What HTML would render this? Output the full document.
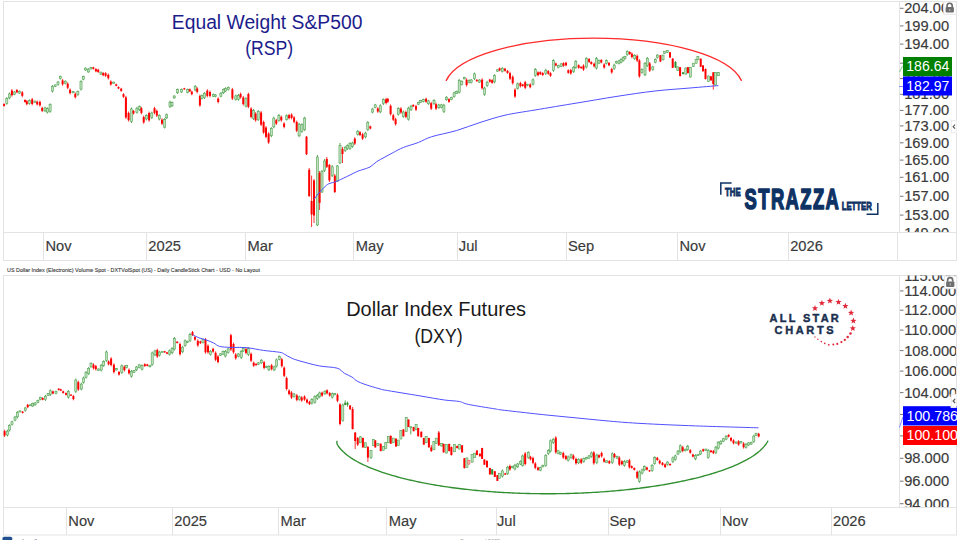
<!DOCTYPE html>
<html><head><meta charset="utf-8"><style>
html,body{margin:0;padding:0;background:#fff;width:960px;height:540px;overflow:hidden}
svg{display:block}
text{font-family:"Liberation Sans",sans-serif}
</style></head><body>
<svg width="960" height="540" viewBox="0 0 960 540">
<defs>
<clipPath id="ctop"><rect x="899" y="1.5" width="57" height="230.5"/></clipPath>
<clipPath id="cbot"><rect x="899" y="275.5" width="57" height="231.5"/></clipPath>
<clipPath id="cbox"><rect x="899" y="0" width="58" height="540"/></clipPath>
</defs>
<rect x="3.5" y="1.5" width="953" height="259" fill="#fff" stroke="#e3e3e3" stroke-width="1"/>
<line x1="3.5" y1="232.5" x2="956.5" y2="232.5" stroke="#e3e3e3"/>
<line x1="899.5" y1="1.5" x2="899.5" y2="232.5" stroke="#e3e3e3"/>
<line x1="43.5" y1="232.5" x2="43.5" y2="260.5" stroke="#e3e3e3" stroke-width="1"/>
<line x1="146.5" y1="232.5" x2="146.5" y2="260.5" stroke="#e3e3e3" stroke-width="1"/>
<line x1="245.5" y1="232.5" x2="245.5" y2="260.5" stroke="#e3e3e3" stroke-width="1"/>
<line x1="353.5" y1="232.5" x2="353.5" y2="260.5" stroke="#e3e3e3" stroke-width="1"/>
<line x1="457.5" y1="232.5" x2="457.5" y2="260.5" stroke="#e3e3e3" stroke-width="1"/>
<line x1="566.5" y1="232.5" x2="566.5" y2="260.5" stroke="#e3e3e3" stroke-width="1"/>
<line x1="677.5" y1="232.5" x2="677.5" y2="260.5" stroke="#e3e3e3" stroke-width="1"/>
<line x1="788.5" y1="232.5" x2="788.5" y2="260.5" stroke="#e3e3e3" stroke-width="1"/>
<line x1="897.5" y1="232.5" x2="897.5" y2="260.5" stroke="#e3e3e3" stroke-width="1"/>
<text x="45.5" y="251.3" font-size="14" fill="#3a3a3a" stroke="#3a3a3a" stroke-width="0.15" textLength="26.1" lengthAdjust="spacingAndGlyphs">Nov</text>
<text x="148.3" y="251.3" font-size="14" fill="#3a3a3a" stroke="#3a3a3a" stroke-width="0.15" textLength="32.7" lengthAdjust="spacingAndGlyphs">2025</text>
<text x="247.5" y="251.3" font-size="14" fill="#3a3a3a" stroke="#3a3a3a" stroke-width="0.15" textLength="25.3" lengthAdjust="spacingAndGlyphs">Mar</text>
<text x="355.7" y="251.3" font-size="14" fill="#3a3a3a" stroke="#3a3a3a" stroke-width="0.15" textLength="27.8" lengthAdjust="spacingAndGlyphs">May</text>
<text x="458.8" y="251.3" font-size="14" fill="#3a3a3a" stroke="#3a3a3a" stroke-width="0.15" textLength="18.8" lengthAdjust="spacingAndGlyphs">Jul</text>
<text x="568" y="251.3" font-size="14" fill="#3a3a3a" stroke="#3a3a3a" stroke-width="0.15" textLength="26.2" lengthAdjust="spacingAndGlyphs">Sep</text>
<text x="679.5" y="251.3" font-size="14" fill="#3a3a3a" stroke="#3a3a3a" stroke-width="0.15" textLength="26.1" lengthAdjust="spacingAndGlyphs">Nov</text>
<text x="790.2" y="251.3" font-size="14" fill="#3a3a3a" stroke="#3a3a3a" stroke-width="0.15" textLength="32.7" lengthAdjust="spacingAndGlyphs">2026</text>
<line x1="900" y1="8.3" x2="903.5" y2="8.3" stroke="#777" stroke-width="1"/>
<text x="904.2" y="13.3" font-size="14" fill="#3a3a3a" stroke="#3a3a3a" stroke-width="0.15" textLength="44.9" lengthAdjust="spacingAndGlyphs" clip-path="url(#ctop)">204.00</text>
<line x1="900" y1="25.9" x2="903.5" y2="25.9" stroke="#777" stroke-width="1"/>
<text x="904.2" y="30.9" font-size="14" fill="#3a3a3a" stroke="#3a3a3a" stroke-width="0.15" textLength="44.9" lengthAdjust="spacingAndGlyphs" clip-path="url(#ctop)">199.00</text>
<line x1="900" y1="44.1" x2="903.5" y2="44.1" stroke="#777" stroke-width="1"/>
<text x="904.2" y="49.1" font-size="14" fill="#3a3a3a" stroke="#3a3a3a" stroke-width="0.15" textLength="44.9" lengthAdjust="spacingAndGlyphs" clip-path="url(#ctop)">194.00</text>
<line x1="900" y1="63.2" x2="903.5" y2="63.2" stroke="#777" stroke-width="1"/>
<text x="904.2" y="68.2" font-size="14" fill="#3a3a3a" stroke="#3a3a3a" stroke-width="0.15" textLength="44.9" lengthAdjust="spacingAndGlyphs" clip-path="url(#ctop)">189.00</text>
<line x1="900" y1="78.6" x2="903.5" y2="78.6" stroke="#777" stroke-width="1"/>
<text x="904.2" y="83.6" font-size="14" fill="#3a3a3a" stroke="#3a3a3a" stroke-width="0.15" textLength="44.9" lengthAdjust="spacingAndGlyphs" clip-path="url(#ctop)">185.00</text>
<line x1="900" y1="94.3" x2="903.5" y2="94.3" stroke="#777" stroke-width="1"/>
<text x="904.2" y="99.3" font-size="14" fill="#3a3a3a" stroke="#3a3a3a" stroke-width="0.15" textLength="44.9" lengthAdjust="spacingAndGlyphs" clip-path="url(#ctop)">181.00</text>
<line x1="900" y1="110.4" x2="903.5" y2="110.4" stroke="#777" stroke-width="1"/>
<text x="904.2" y="115.4" font-size="14" fill="#3a3a3a" stroke="#3a3a3a" stroke-width="0.15" textLength="44.9" lengthAdjust="spacingAndGlyphs" clip-path="url(#ctop)">177.00</text>
<line x1="900" y1="125.9" x2="903.5" y2="125.9" stroke="#777" stroke-width="1"/>
<text x="904.2" y="130.9" font-size="14" fill="#3a3a3a" stroke="#3a3a3a" stroke-width="0.15" textLength="44.9" lengthAdjust="spacingAndGlyphs" clip-path="url(#ctop)">173.00</text>
<line x1="900" y1="142.8" x2="903.5" y2="142.8" stroke="#777" stroke-width="1"/>
<text x="904.2" y="147.8" font-size="14" fill="#3a3a3a" stroke="#3a3a3a" stroke-width="0.15" textLength="44.9" lengthAdjust="spacingAndGlyphs" clip-path="url(#ctop)">169.00</text>
<line x1="900" y1="160.1" x2="903.5" y2="160.1" stroke="#777" stroke-width="1"/>
<text x="904.2" y="165.1" font-size="14" fill="#3a3a3a" stroke="#3a3a3a" stroke-width="0.15" textLength="44.9" lengthAdjust="spacingAndGlyphs" clip-path="url(#ctop)">165.00</text>
<line x1="900" y1="177.3" x2="903.5" y2="177.3" stroke="#777" stroke-width="1"/>
<text x="904.2" y="182.3" font-size="14" fill="#3a3a3a" stroke="#3a3a3a" stroke-width="0.15" textLength="44.9" lengthAdjust="spacingAndGlyphs" clip-path="url(#ctop)">161.00</text>
<line x1="900" y1="196.3" x2="903.5" y2="196.3" stroke="#777" stroke-width="1"/>
<text x="904.2" y="201.3" font-size="14" fill="#3a3a3a" stroke="#3a3a3a" stroke-width="0.15" textLength="44.9" lengthAdjust="spacingAndGlyphs" clip-path="url(#ctop)">157.00</text>
<line x1="900" y1="215.1" x2="903.5" y2="215.1" stroke="#777" stroke-width="1"/>
<text x="904.2" y="220.1" font-size="14" fill="#3a3a3a" stroke="#3a3a3a" stroke-width="0.15" textLength="44.9" lengthAdjust="spacingAndGlyphs" clip-path="url(#ctop)">153.00</text>
<text x="904.2" y="237.6" font-size="14" fill="#3a3a3a" stroke="#3a3a3a" stroke-width="0.15" textLength="44.9" lengthAdjust="spacingAndGlyphs" clip-path="url(#ctop)">149.00</text>
<line x1="4.1" y1="103.3" x2="4.1" y2="106.7" stroke="#ff0000" stroke-width="0.8"/>
<rect x="3.10" y="104.0" width="2.0" height="1.9" fill="#ff0000"/>
<line x1="6.8" y1="97.2" x2="6.8" y2="104.7" stroke="#2e8f2e" stroke-width="0.8"/>
<rect x="5.75" y="98.6" width="2.1" height="4.7" fill="#bfe0bf" stroke="#4c9f4c" stroke-width="0.55"/>
<line x1="9.5" y1="92.5" x2="9.5" y2="99.3" stroke="#2e8f2e" stroke-width="0.8"/>
<rect x="8.45" y="93.9" width="2.1" height="4.0" fill="#bfe0bf" stroke="#4c9f4c" stroke-width="0.55"/>
<line x1="11.9" y1="89.1" x2="11.9" y2="96.6" stroke="#ff0000" stroke-width="0.8"/>
<rect x="10.90" y="90.5" width="2.0" height="4.7" fill="#ff0000"/>
<line x1="14.6" y1="91.1" x2="14.6" y2="95.2" stroke="#2e8f2e" stroke-width="0.8"/>
<rect x="13.55" y="92.0" width="2.1" height="2.3" fill="#bfe0bf" stroke="#4c9f4c" stroke-width="0.55"/>
<line x1="16.9" y1="89.1" x2="16.9" y2="93.2" stroke="#ff0000" stroke-width="0.8"/>
<rect x="15.90" y="90.0" width="2.0" height="2.3" fill="#ff0000"/>
<line x1="19.6" y1="90.5" x2="19.6" y2="93.9" stroke="#2e8f2e" stroke-width="0.8"/>
<rect x="18.55" y="91.2" width="2.1" height="1.9" fill="#bfe0bf" stroke="#4c9f4c" stroke-width="0.55"/>
<line x1="22.3" y1="91.1" x2="22.3" y2="97.2" stroke="#ff0000" stroke-width="0.8"/>
<rect x="21.30" y="92.4" width="2.0" height="3.4" fill="#ff0000"/>
<line x1="25.0" y1="99.3" x2="25.0" y2="102.7" stroke="#ff0000" stroke-width="0.8"/>
<rect x="24.00" y="100.0" width="2.0" height="1.9" fill="#ff0000"/>
<line x1="26.8" y1="100.0" x2="26.8" y2="105.4" stroke="#ff0000" stroke-width="0.8"/>
<rect x="25.80" y="101.2" width="2.0" height="3.0" fill="#ff0000"/>
<line x1="29.5" y1="99.3" x2="29.5" y2="104.7" stroke="#2e8f2e" stroke-width="0.8"/>
<rect x="28.45" y="100.5" width="2.1" height="3.0" fill="#bfe0bf" stroke="#4c9f4c" stroke-width="0.55"/>
<line x1="32.2" y1="97.9" x2="32.2" y2="105.4" stroke="#ff0000" stroke-width="0.8"/>
<rect x="31.20" y="99.3" width="2.0" height="4.7" fill="#ff0000"/>
<line x1="34.9" y1="100.6" x2="34.9" y2="102.7" stroke="#2e8f2e" stroke-width="0.8"/>
<rect x="33.85" y="101.1" width="2.1" height="1.2" fill="#bfe0bf" stroke="#4c9f4c" stroke-width="0.55"/>
<line x1="37.2" y1="100.6" x2="37.2" y2="105.4" stroke="#ff0000" stroke-width="0.8"/>
<rect x="36.20" y="101.7" width="2.0" height="2.7" fill="#ff0000"/>
<line x1="39.9" y1="100.6" x2="39.9" y2="106.7" stroke="#ff0000" stroke-width="0.8"/>
<rect x="38.90" y="101.9" width="2.0" height="3.4" fill="#ff0000"/>
<line x1="42.2" y1="106.7" x2="42.2" y2="112.1" stroke="#ff0000" stroke-width="0.8"/>
<rect x="41.20" y="107.9" width="2.0" height="3.0" fill="#ff0000"/>
<line x1="45.0" y1="106.7" x2="45.0" y2="112.1" stroke="#2e8f2e" stroke-width="0.8"/>
<rect x="43.95" y="107.9" width="2.1" height="3.0" fill="#bfe0bf" stroke="#4c9f4c" stroke-width="0.55"/>
<line x1="47.4" y1="107.4" x2="47.4" y2="113.5" stroke="#2e8f2e" stroke-width="0.8"/>
<rect x="46.35" y="108.7" width="2.1" height="3.4" fill="#bfe0bf" stroke="#4c9f4c" stroke-width="0.55"/>
<line x1="50.1" y1="103.3" x2="50.1" y2="112.8" stroke="#2e8f2e" stroke-width="0.8"/>
<rect x="49.05" y="104.7" width="2.1" height="6.7" fill="#bfe0bf" stroke="#4c9f4c" stroke-width="0.55"/>
<line x1="52.5" y1="85.0" x2="52.5" y2="92.5" stroke="#2e8f2e" stroke-width="0.8"/>
<rect x="51.45" y="86.4" width="2.1" height="4.7" fill="#bfe0bf" stroke="#4c9f4c" stroke-width="0.55"/>
<line x1="55.2" y1="84.4" x2="55.2" y2="87.1" stroke="#2e8f2e" stroke-width="0.8"/>
<rect x="54.15" y="85.0" width="2.1" height="1.5" fill="#bfe0bf" stroke="#4c9f4c" stroke-width="0.55"/>
<line x1="58.0" y1="81.0" x2="58.0" y2="85.7" stroke="#2e8f2e" stroke-width="0.8"/>
<rect x="56.95" y="82.0" width="2.1" height="2.6" fill="#bfe0bf" stroke="#4c9f4c" stroke-width="0.55"/>
<line x1="60.3" y1="75.6" x2="60.3" y2="79.6" stroke="#2e8f2e" stroke-width="0.8"/>
<rect x="59.25" y="76.5" width="2.1" height="2.2" fill="#bfe0bf" stroke="#4c9f4c" stroke-width="0.55"/>
<line x1="62.6" y1="79.0" x2="62.6" y2="85.7" stroke="#ff0000" stroke-width="0.8"/>
<rect x="61.60" y="80.4" width="2.0" height="3.9" fill="#ff0000"/>
<line x1="65.3" y1="80.3" x2="65.3" y2="84.4" stroke="#2e8f2e" stroke-width="0.8"/>
<rect x="64.25" y="81.2" width="2.1" height="2.3" fill="#bfe0bf" stroke="#4c9f4c" stroke-width="0.55"/>
<line x1="67.7" y1="82.3" x2="67.7" y2="89.1" stroke="#ff0000" stroke-width="0.8"/>
<rect x="66.70" y="83.7" width="2.0" height="4.0" fill="#ff0000"/>
<line x1="70.1" y1="88.4" x2="70.1" y2="94.5" stroke="#ff0000" stroke-width="0.8"/>
<rect x="69.10" y="89.7" width="2.0" height="3.4" fill="#ff0000"/>
<line x1="73.1" y1="91.1" x2="73.1" y2="93.2" stroke="#2e8f2e" stroke-width="0.8"/>
<rect x="72.05" y="91.6" width="2.1" height="1.2" fill="#bfe0bf" stroke="#4c9f4c" stroke-width="0.55"/>
<line x1="75.3" y1="92.5" x2="75.3" y2="98.6" stroke="#ff0000" stroke-width="0.8"/>
<rect x="74.30" y="93.8" width="2.0" height="3.4" fill="#ff0000"/>
<line x1="77.9" y1="90.5" x2="77.9" y2="95.9" stroke="#2e8f2e" stroke-width="0.8"/>
<rect x="76.85" y="91.7" width="2.1" height="3.0" fill="#bfe0bf" stroke="#4c9f4c" stroke-width="0.55"/>
<line x1="81.0" y1="80.3" x2="81.0" y2="90.5" stroke="#2e8f2e" stroke-width="0.8"/>
<rect x="79.95" y="81.7" width="2.1" height="7.4" fill="#bfe0bf" stroke="#4c9f4c" stroke-width="0.55"/>
<line x1="83.3" y1="75.6" x2="83.3" y2="80.3" stroke="#2e8f2e" stroke-width="0.8"/>
<rect x="82.25" y="76.6" width="2.1" height="2.6" fill="#bfe0bf" stroke="#4c9f4c" stroke-width="0.55"/>
<line x1="85.6" y1="67.4" x2="85.6" y2="70.8" stroke="#2e8f2e" stroke-width="0.8"/>
<rect x="84.55" y="68.1" width="2.1" height="1.9" fill="#bfe0bf" stroke="#4c9f4c" stroke-width="0.55"/>
<line x1="88.3" y1="68.1" x2="88.3" y2="72.9" stroke="#2e8f2e" stroke-width="0.8"/>
<rect x="87.25" y="69.2" width="2.1" height="2.7" fill="#bfe0bf" stroke="#4c9f4c" stroke-width="0.55"/>
<line x1="91.0" y1="66.8" x2="91.0" y2="69.5" stroke="#2e8f2e" stroke-width="0.8"/>
<rect x="89.95" y="67.4" width="2.1" height="1.5" fill="#bfe0bf" stroke="#4c9f4c" stroke-width="0.55"/>
<line x1="93.4" y1="66.8" x2="93.4" y2="69.5" stroke="#ff0000" stroke-width="0.8"/>
<rect x="92.40" y="67.4" width="2.0" height="1.5" fill="#ff0000"/>
<line x1="95.9" y1="68.1" x2="95.9" y2="72.2" stroke="#ff0000" stroke-width="0.8"/>
<rect x="94.90" y="69.0" width="2.0" height="2.3" fill="#ff0000"/>
<line x1="98.2" y1="68.8" x2="98.2" y2="72.9" stroke="#ff0000" stroke-width="0.8"/>
<rect x="97.20" y="69.7" width="2.0" height="2.3" fill="#ff0000"/>
<line x1="100.9" y1="71.5" x2="100.9" y2="74.9" stroke="#2e8f2e" stroke-width="0.8"/>
<rect x="99.85" y="72.2" width="2.1" height="1.9" fill="#bfe0bf" stroke="#4c9f4c" stroke-width="0.55"/>
<line x1="103.2" y1="72.2" x2="103.2" y2="76.2" stroke="#ff0000" stroke-width="0.8"/>
<rect x="102.20" y="73.1" width="2.0" height="2.2" fill="#ff0000"/>
<line x1="105.6" y1="72.2" x2="105.6" y2="76.9" stroke="#ff0000" stroke-width="0.8"/>
<rect x="104.60" y="73.2" width="2.0" height="2.6" fill="#ff0000"/>
<line x1="108.3" y1="73.5" x2="108.3" y2="79.6" stroke="#ff0000" stroke-width="0.8"/>
<rect x="107.30" y="74.8" width="2.0" height="3.4" fill="#ff0000"/>
<line x1="110.8" y1="80.3" x2="110.8" y2="85.7" stroke="#ff0000" stroke-width="0.8"/>
<rect x="109.80" y="81.5" width="2.0" height="3.0" fill="#ff0000"/>
<line x1="113.7" y1="81.7" x2="113.7" y2="83.7" stroke="#2e8f2e" stroke-width="0.8"/>
<rect x="112.65" y="82.1" width="2.1" height="1.1" fill="#bfe0bf" stroke="#4c9f4c" stroke-width="0.55"/>
<line x1="116.2" y1="83.7" x2="116.2" y2="86.4" stroke="#ff0000" stroke-width="0.8"/>
<rect x="115.20" y="84.3" width="2.0" height="1.5" fill="#ff0000"/>
<line x1="118.5" y1="86.4" x2="118.5" y2="89.1" stroke="#ff0000" stroke-width="0.8"/>
<rect x="117.50" y="87.0" width="2.0" height="1.5" fill="#ff0000"/>
<line x1="121.2" y1="87.8" x2="121.2" y2="91.8" stroke="#ff0000" stroke-width="0.8"/>
<rect x="120.20" y="88.7" width="2.0" height="2.2" fill="#ff0000"/>
<line x1="123.5" y1="93.2" x2="123.5" y2="97.9" stroke="#ff0000" stroke-width="0.8"/>
<rect x="122.50" y="94.2" width="2.0" height="2.6" fill="#ff0000"/>
<line x1="125.9" y1="95.9" x2="125.9" y2="118.9" stroke="#ff0000" stroke-width="0.8"/>
<rect x="124.90" y="97.3" width="2.0" height="20.2" fill="#ff0000"/>
<line x1="128.6" y1="111.5" x2="128.6" y2="121.6" stroke="#ff0000" stroke-width="0.8"/>
<rect x="127.60" y="112.9" width="2.0" height="7.3" fill="#ff0000"/>
<line x1="131.5" y1="107.5" x2="131.5" y2="123.0" stroke="#2e8f2e" stroke-width="0.8"/>
<rect x="130.45" y="108.9" width="2.1" height="12.7" fill="#bfe0bf" stroke="#4c9f4c" stroke-width="0.55"/>
<line x1="133.5" y1="110.0" x2="133.5" y2="114.5" stroke="#ff0000" stroke-width="0.8"/>
<rect x="132.50" y="111.0" width="2.0" height="2.5" fill="#ff0000"/>
<line x1="136.9" y1="106.8" x2="136.9" y2="113.6" stroke="#2e8f2e" stroke-width="0.8"/>
<rect x="135.85" y="108.2" width="2.1" height="4.0" fill="#bfe0bf" stroke="#4c9f4c" stroke-width="0.55"/>
<line x1="139.6" y1="105.5" x2="139.6" y2="111.0" stroke="#2e8f2e" stroke-width="0.8"/>
<rect x="138.55" y="106.7" width="2.1" height="3.1" fill="#bfe0bf" stroke="#4c9f4c" stroke-width="0.55"/>
<line x1="141.4" y1="106.8" x2="141.4" y2="114.3" stroke="#ff0000" stroke-width="0.8"/>
<rect x="140.40" y="108.2" width="2.0" height="4.7" fill="#ff0000"/>
<line x1="143.7" y1="115.6" x2="143.7" y2="123.8" stroke="#ff0000" stroke-width="0.8"/>
<rect x="142.70" y="117.0" width="2.0" height="5.4" fill="#ff0000"/>
<line x1="146.4" y1="114.3" x2="146.4" y2="120.4" stroke="#2e8f2e" stroke-width="0.8"/>
<rect x="145.35" y="115.6" width="2.1" height="3.4" fill="#bfe0bf" stroke="#4c9f4c" stroke-width="0.55"/>
<line x1="149.1" y1="111.6" x2="149.1" y2="121.7" stroke="#ff0000" stroke-width="0.8"/>
<rect x="148.10" y="113.0" width="2.0" height="7.3" fill="#ff0000"/>
<line x1="151.8" y1="111.6" x2="151.8" y2="119.0" stroke="#2e8f2e" stroke-width="0.8"/>
<rect x="150.75" y="113.0" width="2.1" height="4.6" fill="#bfe0bf" stroke="#4c9f4c" stroke-width="0.55"/>
<line x1="154.5" y1="106.8" x2="154.5" y2="114.3" stroke="#ff0000" stroke-width="0.8"/>
<rect x="153.50" y="108.2" width="2.0" height="4.7" fill="#ff0000"/>
<line x1="156.8" y1="109.5" x2="156.8" y2="117.0" stroke="#ff0000" stroke-width="0.8"/>
<rect x="155.80" y="110.9" width="2.0" height="4.7" fill="#ff0000"/>
<line x1="159.3" y1="114.3" x2="159.3" y2="120.4" stroke="#2e8f2e" stroke-width="0.8"/>
<rect x="158.25" y="115.6" width="2.1" height="3.4" fill="#bfe0bf" stroke="#4c9f4c" stroke-width="0.55"/>
<line x1="162.0" y1="118.3" x2="162.0" y2="125.1" stroke="#ff0000" stroke-width="0.8"/>
<rect x="161.00" y="119.7" width="2.0" height="4.0" fill="#ff0000"/>
<line x1="164.7" y1="118.0" x2="164.7" y2="128.5" stroke="#2e8f2e" stroke-width="0.8"/>
<rect x="163.65" y="119.4" width="2.1" height="7.7" fill="#bfe0bf" stroke="#4c9f4c" stroke-width="0.55"/>
<line x1="166.7" y1="113.6" x2="166.7" y2="119.0" stroke="#2e8f2e" stroke-width="0.8"/>
<rect x="165.65" y="114.8" width="2.1" height="3.0" fill="#bfe0bf" stroke="#4c9f4c" stroke-width="0.55"/>
<line x1="170.0" y1="100.7" x2="170.0" y2="108.0" stroke="#2e8f2e" stroke-width="0.8"/>
<rect x="168.95" y="102.1" width="2.1" height="4.5" fill="#bfe0bf" stroke="#4c9f4c" stroke-width="0.55"/>
<line x1="172.0" y1="101.5" x2="172.0" y2="107.0" stroke="#2e8f2e" stroke-width="0.8"/>
<rect x="170.95" y="102.7" width="2.1" height="3.1" fill="#bfe0bf" stroke="#4c9f4c" stroke-width="0.55"/>
<line x1="174.2" y1="95.3" x2="174.2" y2="98.7" stroke="#2e8f2e" stroke-width="0.8"/>
<rect x="173.15" y="96.0" width="2.1" height="1.9" fill="#bfe0bf" stroke="#4c9f4c" stroke-width="0.55"/>
<line x1="177.6" y1="88.5" x2="177.6" y2="94.0" stroke="#2e8f2e" stroke-width="0.8"/>
<rect x="176.55" y="89.7" width="2.1" height="3.1" fill="#bfe0bf" stroke="#4c9f4c" stroke-width="0.55"/>
<line x1="181.6" y1="88.5" x2="181.6" y2="93.0" stroke="#2e8f2e" stroke-width="0.8"/>
<rect x="180.55" y="89.5" width="2.1" height="2.5" fill="#bfe0bf" stroke="#4c9f4c" stroke-width="0.55"/>
<line x1="184.3" y1="87.8" x2="184.3" y2="89.8" stroke="#ff0000" stroke-width="0.8"/>
<rect x="183.30" y="88.2" width="2.0" height="1.1" fill="#ff0000"/>
<line x1="187.7" y1="88.5" x2="187.7" y2="93.3" stroke="#2e8f2e" stroke-width="0.8"/>
<rect x="186.65" y="89.6" width="2.1" height="2.7" fill="#bfe0bf" stroke="#4c9f4c" stroke-width="0.55"/>
<line x1="189.8" y1="88.5" x2="189.8" y2="92.0" stroke="#ff0000" stroke-width="0.8"/>
<rect x="188.80" y="89.3" width="2.0" height="2.0" fill="#ff0000"/>
<line x1="191.8" y1="90.6" x2="191.8" y2="95.3" stroke="#ff0000" stroke-width="0.8"/>
<rect x="190.80" y="91.6" width="2.0" height="2.6" fill="#ff0000"/>
<line x1="195.2" y1="85.0" x2="195.2" y2="91.3" stroke="#2e8f2e" stroke-width="0.8"/>
<rect x="194.15" y="86.4" width="2.1" height="3.5" fill="#bfe0bf" stroke="#4c9f4c" stroke-width="0.55"/>
<line x1="197.2" y1="87.2" x2="197.2" y2="93.3" stroke="#ff0000" stroke-width="0.8"/>
<rect x="196.20" y="88.5" width="2.0" height="3.4" fill="#ff0000"/>
<line x1="199.9" y1="94.6" x2="199.9" y2="106.8" stroke="#ff0000" stroke-width="0.8"/>
<rect x="198.90" y="96.0" width="2.0" height="9.4" fill="#ff0000"/>
<line x1="201.9" y1="94.6" x2="201.9" y2="99.4" stroke="#2e8f2e" stroke-width="0.8"/>
<rect x="200.85" y="95.7" width="2.1" height="2.7" fill="#bfe0bf" stroke="#4c9f4c" stroke-width="0.55"/>
<line x1="204.6" y1="92.0" x2="204.6" y2="99.0" stroke="#2e8f2e" stroke-width="0.8"/>
<rect x="203.55" y="93.4" width="2.1" height="4.2" fill="#bfe0bf" stroke="#4c9f4c" stroke-width="0.55"/>
<line x1="207.3" y1="89.2" x2="207.3" y2="97.3" stroke="#ff0000" stroke-width="0.8"/>
<rect x="206.30" y="90.6" width="2.0" height="5.3" fill="#ff0000"/>
<line x1="210.0" y1="90.6" x2="210.0" y2="97.3" stroke="#ff0000" stroke-width="0.8"/>
<rect x="209.00" y="92.0" width="2.0" height="3.9" fill="#ff0000"/>
<line x1="213.4" y1="93.5" x2="213.4" y2="97.0" stroke="#2e8f2e" stroke-width="0.8"/>
<rect x="212.35" y="94.3" width="2.1" height="2.0" fill="#bfe0bf" stroke="#4c9f4c" stroke-width="0.55"/>
<line x1="215.5" y1="94.2" x2="215.5" y2="97.3" stroke="#2e8f2e" stroke-width="0.8"/>
<rect x="214.45" y="94.9" width="2.1" height="1.7" fill="#bfe0bf" stroke="#4c9f4c" stroke-width="0.55"/>
<line x1="218.2" y1="97.3" x2="218.2" y2="103.4" stroke="#ff0000" stroke-width="0.8"/>
<rect x="217.20" y="98.6" width="2.0" height="3.4" fill="#ff0000"/>
<line x1="220.9" y1="92.0" x2="220.9" y2="97.3" stroke="#2e8f2e" stroke-width="0.8"/>
<rect x="219.85" y="93.2" width="2.1" height="3.0" fill="#bfe0bf" stroke="#4c9f4c" stroke-width="0.55"/>
<line x1="223.6" y1="88.5" x2="223.6" y2="94.0" stroke="#2e8f2e" stroke-width="0.8"/>
<rect x="222.55" y="89.7" width="2.1" height="3.1" fill="#bfe0bf" stroke="#4c9f4c" stroke-width="0.55"/>
<line x1="225.6" y1="87.2" x2="225.6" y2="92.0" stroke="#2e8f2e" stroke-width="0.8"/>
<rect x="224.55" y="88.3" width="2.1" height="2.7" fill="#bfe0bf" stroke="#4c9f4c" stroke-width="0.55"/>
<line x1="228.3" y1="86.5" x2="228.3" y2="90.6" stroke="#2e8f2e" stroke-width="0.8"/>
<rect x="227.25" y="87.4" width="2.1" height="2.3" fill="#bfe0bf" stroke="#4c9f4c" stroke-width="0.55"/>
<line x1="232.4" y1="87.9" x2="232.4" y2="100.0" stroke="#ff0000" stroke-width="0.8"/>
<rect x="231.40" y="89.3" width="2.0" height="9.3" fill="#ff0000"/>
<line x1="235.8" y1="94.6" x2="235.8" y2="100.7" stroke="#2e8f2e" stroke-width="0.8"/>
<rect x="234.75" y="95.9" width="2.1" height="3.4" fill="#bfe0bf" stroke="#4c9f4c" stroke-width="0.55"/>
<line x1="238.5" y1="94.0" x2="238.5" y2="100.7" stroke="#2e8f2e" stroke-width="0.8"/>
<rect x="237.45" y="95.4" width="2.1" height="3.9" fill="#bfe0bf" stroke="#4c9f4c" stroke-width="0.55"/>
<line x1="240.6" y1="92.6" x2="240.6" y2="98.7" stroke="#ff0000" stroke-width="0.8"/>
<rect x="239.60" y="93.9" width="2.0" height="3.4" fill="#ff0000"/>
<line x1="243.3" y1="96.0" x2="243.3" y2="105.5" stroke="#ff0000" stroke-width="0.8"/>
<rect x="242.30" y="97.4" width="2.0" height="6.7" fill="#ff0000"/>
<line x1="246.0" y1="97.3" x2="246.0" y2="107.5" stroke="#2e8f2e" stroke-width="0.8"/>
<rect x="244.95" y="98.7" width="2.1" height="7.4" fill="#bfe0bf" stroke="#4c9f4c" stroke-width="0.55"/>
<line x1="248.4" y1="92.6" x2="248.4" y2="108.2" stroke="#ff0000" stroke-width="0.8"/>
<rect x="247.40" y="94.0" width="2.0" height="12.8" fill="#ff0000"/>
<line x1="251.1" y1="107.2" x2="251.1" y2="118.3" stroke="#ff0000" stroke-width="0.8"/>
<rect x="250.10" y="108.6" width="2.0" height="8.3" fill="#ff0000"/>
<line x1="253.6" y1="108.9" x2="253.6" y2="120.0" stroke="#2e8f2e" stroke-width="0.8"/>
<rect x="252.55" y="110.3" width="2.1" height="8.3" fill="#bfe0bf" stroke="#4c9f4c" stroke-width="0.55"/>
<line x1="255.6" y1="112.2" x2="255.6" y2="121.7" stroke="#ff0000" stroke-width="0.8"/>
<rect x="254.60" y="113.6" width="2.0" height="6.7" fill="#ff0000"/>
<line x1="258.2" y1="110.0" x2="258.2" y2="121.1" stroke="#2e8f2e" stroke-width="0.8"/>
<rect x="257.15" y="111.4" width="2.1" height="8.3" fill="#bfe0bf" stroke="#4c9f4c" stroke-width="0.55"/>
<line x1="261.1" y1="111.1" x2="261.1" y2="126.1" stroke="#ff0000" stroke-width="0.8"/>
<rect x="260.10" y="112.5" width="2.0" height="12.2" fill="#ff0000"/>
<line x1="263.6" y1="120.6" x2="263.6" y2="133.9" stroke="#ff0000" stroke-width="0.8"/>
<rect x="262.60" y="122.0" width="2.0" height="10.5" fill="#ff0000"/>
<line x1="266.0" y1="126.1" x2="266.0" y2="138.3" stroke="#ff0000" stroke-width="0.8"/>
<rect x="265.00" y="127.5" width="2.0" height="9.4" fill="#ff0000"/>
<line x1="268.6" y1="132.2" x2="268.6" y2="143.9" stroke="#ff0000" stroke-width="0.8"/>
<rect x="267.60" y="133.6" width="2.0" height="8.9" fill="#ff0000"/>
<line x1="271.3" y1="127.2" x2="271.3" y2="137.2" stroke="#2e8f2e" stroke-width="0.8"/>
<rect x="270.25" y="128.6" width="2.1" height="7.2" fill="#bfe0bf" stroke="#4c9f4c" stroke-width="0.55"/>
<line x1="273.8" y1="116.7" x2="273.8" y2="128.3" stroke="#2e8f2e" stroke-width="0.8"/>
<rect x="272.75" y="118.1" width="2.1" height="8.8" fill="#bfe0bf" stroke="#4c9f4c" stroke-width="0.55"/>
<line x1="276.3" y1="118.9" x2="276.3" y2="125.0" stroke="#ff0000" stroke-width="0.8"/>
<rect x="275.30" y="120.2" width="2.0" height="3.4" fill="#ff0000"/>
<line x1="278.9" y1="113.9" x2="278.9" y2="121.7" stroke="#2e8f2e" stroke-width="0.8"/>
<rect x="277.85" y="115.3" width="2.1" height="5.0" fill="#bfe0bf" stroke="#4c9f4c" stroke-width="0.55"/>
<line x1="281.3" y1="115.6" x2="281.3" y2="121.7" stroke="#ff0000" stroke-width="0.8"/>
<rect x="280.30" y="116.9" width="2.0" height="3.4" fill="#ff0000"/>
<line x1="284.1" y1="122.2" x2="284.1" y2="128.3" stroke="#ff0000" stroke-width="0.8"/>
<rect x="283.10" y="123.5" width="2.0" height="3.4" fill="#ff0000"/>
<line x1="286.7" y1="114.4" x2="286.7" y2="120.6" stroke="#2e8f2e" stroke-width="0.8"/>
<rect x="285.65" y="115.8" width="2.1" height="3.5" fill="#bfe0bf" stroke="#4c9f4c" stroke-width="0.55"/>
<line x1="289.1" y1="113.9" x2="289.1" y2="119.4" stroke="#ff0000" stroke-width="0.8"/>
<rect x="288.10" y="115.1" width="2.0" height="3.1" fill="#ff0000"/>
<line x1="291.6" y1="113.3" x2="291.6" y2="119.4" stroke="#ff0000" stroke-width="0.8"/>
<rect x="290.60" y="114.6" width="2.0" height="3.4" fill="#ff0000"/>
<line x1="294.1" y1="116.1" x2="294.1" y2="123.3" stroke="#ff0000" stroke-width="0.8"/>
<rect x="293.10" y="117.5" width="2.0" height="4.4" fill="#ff0000"/>
<line x1="296.7" y1="120.6" x2="296.7" y2="132.2" stroke="#ff0000" stroke-width="0.8"/>
<rect x="295.70" y="122.0" width="2.0" height="8.8" fill="#ff0000"/>
<line x1="299.1" y1="122.8" x2="299.1" y2="137.2" stroke="#2e8f2e" stroke-width="0.8"/>
<rect x="298.05" y="124.2" width="2.1" height="11.6" fill="#bfe0bf" stroke="#4c9f4c" stroke-width="0.55"/>
<line x1="301.9" y1="123.3" x2="301.9" y2="132.8" stroke="#2e8f2e" stroke-width="0.8"/>
<rect x="300.85" y="124.7" width="2.1" height="6.7" fill="#bfe0bf" stroke="#4c9f4c" stroke-width="0.55"/>
<line x1="304.7" y1="116.7" x2="304.7" y2="131.1" stroke="#2e8f2e" stroke-width="0.8"/>
<rect x="303.65" y="118.1" width="2.1" height="11.6" fill="#bfe0bf" stroke="#4c9f4c" stroke-width="0.55"/>
<line x1="306.5" y1="136.0" x2="306.5" y2="155.0" stroke="#ff0000" stroke-width="0.8"/>
<rect x="305.50" y="136.7" width="2.0" height="17.5" fill="#ff0000"/>
<line x1="309.2" y1="168.0" x2="309.2" y2="197.0" stroke="#ff0000" stroke-width="0.8"/>
<rect x="308.20" y="169.7" width="2.0" height="26.3" fill="#ff0000"/>
<line x1="311.6" y1="175.6" x2="311.6" y2="227.0" stroke="#ff0000" stroke-width="0.8"/>
<rect x="310.60" y="201.0" width="2.0" height="13.5" fill="#ff0000"/>
<line x1="314.0" y1="179.0" x2="314.0" y2="223.0" stroke="#ff0000" stroke-width="0.8"/>
<rect x="313.00" y="180.4" width="2.0" height="35.1" fill="#ff0000"/>
<line x1="317.4" y1="155.0" x2="317.4" y2="226.0" stroke="#2e8f2e" stroke-width="0.8"/>
<rect x="316.35" y="157.0" width="2.1" height="68.0" fill="#bfe0bf" stroke="#4c9f4c" stroke-width="0.55"/>
<line x1="319.6" y1="171.0" x2="319.6" y2="210.0" stroke="#ff0000" stroke-width="0.8"/>
<rect x="318.60" y="172.7" width="2.0" height="30.1" fill="#ff0000"/>
<line x1="322.0" y1="170.0" x2="322.0" y2="193.0" stroke="#2e8f2e" stroke-width="0.8"/>
<rect x="320.95" y="171.7" width="2.1" height="20.3" fill="#bfe0bf" stroke="#4c9f4c" stroke-width="0.55"/>
<line x1="324.6" y1="159.0" x2="324.6" y2="172.0" stroke="#2e8f2e" stroke-width="0.8"/>
<rect x="323.55" y="161.0" width="2.1" height="9.7" fill="#bfe0bf" stroke="#4c9f4c" stroke-width="0.55"/>
<line x1="326.8" y1="157.0" x2="326.8" y2="168.0" stroke="#ff0000" stroke-width="0.8"/>
<rect x="325.80" y="159.0" width="2.0" height="7.8" fill="#ff0000"/>
<line x1="329.4" y1="164.0" x2="329.4" y2="182.0" stroke="#ff0000" stroke-width="0.8"/>
<rect x="328.40" y="164.9" width="2.0" height="15.5" fill="#ff0000"/>
<line x1="332.2" y1="165.0" x2="332.2" y2="177.0" stroke="#2e8f2e" stroke-width="0.8"/>
<rect x="331.15" y="166.8" width="2.1" height="8.8" fill="#bfe0bf" stroke="#4c9f4c" stroke-width="0.55"/>
<line x1="334.8" y1="174.0" x2="334.8" y2="193.0" stroke="#ff0000" stroke-width="0.8"/>
<rect x="333.80" y="175.6" width="2.0" height="16.4" fill="#ff0000"/>
<line x1="337.4" y1="165.0" x2="337.4" y2="182.0" stroke="#2e8f2e" stroke-width="0.8"/>
<rect x="336.35" y="165.9" width="2.1" height="15.5" fill="#bfe0bf" stroke="#4c9f4c" stroke-width="0.55"/>
<line x1="340.0" y1="143.0" x2="340.0" y2="164.0" stroke="#2e8f2e" stroke-width="0.8"/>
<rect x="338.95" y="145.4" width="2.1" height="17.6" fill="#bfe0bf" stroke="#4c9f4c" stroke-width="0.55"/>
<line x1="342.5" y1="147.0" x2="342.5" y2="163.0" stroke="#ff0000" stroke-width="0.8"/>
<rect x="341.50" y="149.0" width="2.0" height="5.0" fill="#ff0000"/>
<line x1="345.2" y1="146.0" x2="345.2" y2="152.0" stroke="#2e8f2e" stroke-width="0.8"/>
<rect x="344.15" y="147.3" width="2.1" height="3.4" fill="#bfe0bf" stroke="#4c9f4c" stroke-width="0.55"/>
<line x1="347.6" y1="144.4" x2="347.6" y2="150.0" stroke="#2e8f2e" stroke-width="0.8"/>
<rect x="346.55" y="145.6" width="2.1" height="3.1" fill="#bfe0bf" stroke="#4c9f4c" stroke-width="0.55"/>
<line x1="350.0" y1="142.2" x2="350.0" y2="150.0" stroke="#2e8f2e" stroke-width="0.8"/>
<rect x="348.95" y="143.6" width="2.1" height="5.0" fill="#bfe0bf" stroke="#4c9f4c" stroke-width="0.55"/>
<line x1="352.6" y1="141.7" x2="352.6" y2="147.8" stroke="#2e8f2e" stroke-width="0.8"/>
<rect x="351.55" y="143.0" width="2.1" height="3.4" fill="#bfe0bf" stroke="#4c9f4c" stroke-width="0.55"/>
<line x1="354.8" y1="137.2" x2="354.8" y2="145.0" stroke="#ff0000" stroke-width="0.8"/>
<rect x="353.80" y="138.6" width="2.0" height="5.0" fill="#ff0000"/>
<line x1="357.8" y1="130.0" x2="357.8" y2="135.6" stroke="#2e8f2e" stroke-width="0.8"/>
<rect x="356.75" y="131.2" width="2.1" height="3.1" fill="#bfe0bf" stroke="#4c9f4c" stroke-width="0.55"/>
<line x1="360.0" y1="131.1" x2="360.0" y2="136.1" stroke="#ff0000" stroke-width="0.8"/>
<rect x="359.00" y="132.2" width="2.0" height="2.8" fill="#ff0000"/>
<line x1="362.6" y1="132.8" x2="362.6" y2="140.0" stroke="#ff0000" stroke-width="0.8"/>
<rect x="361.60" y="134.2" width="2.0" height="4.4" fill="#ff0000"/>
<line x1="365.6" y1="131.7" x2="365.6" y2="138.3" stroke="#2e8f2e" stroke-width="0.8"/>
<rect x="364.55" y="133.1" width="2.1" height="3.8" fill="#bfe0bf" stroke="#4c9f4c" stroke-width="0.55"/>
<line x1="367.8" y1="121.1" x2="367.8" y2="131.1" stroke="#2e8f2e" stroke-width="0.8"/>
<rect x="366.75" y="122.5" width="2.1" height="7.2" fill="#bfe0bf" stroke="#4c9f4c" stroke-width="0.55"/>
<line x1="370.3" y1="125.6" x2="370.3" y2="129.4" stroke="#ff0000" stroke-width="0.8"/>
<rect x="369.30" y="126.4" width="2.0" height="2.1" fill="#ff0000"/>
<line x1="372.6" y1="107.8" x2="372.6" y2="113.3" stroke="#2e8f2e" stroke-width="0.8"/>
<rect x="371.55" y="109.0" width="2.1" height="3.1" fill="#bfe0bf" stroke="#4c9f4c" stroke-width="0.55"/>
<line x1="375.2" y1="103.9" x2="375.2" y2="108.3" stroke="#2e8f2e" stroke-width="0.8"/>
<rect x="374.15" y="104.9" width="2.1" height="2.5" fill="#bfe0bf" stroke="#4c9f4c" stroke-width="0.55"/>
<line x1="377.8" y1="107.2" x2="377.8" y2="112.8" stroke="#ff0000" stroke-width="0.8"/>
<rect x="376.80" y="108.4" width="2.0" height="3.1" fill="#ff0000"/>
<line x1="380.3" y1="104.4" x2="380.3" y2="113.3" stroke="#2e8f2e" stroke-width="0.8"/>
<rect x="379.25" y="105.8" width="2.1" height="6.1" fill="#bfe0bf" stroke="#4c9f4c" stroke-width="0.55"/>
<line x1="383.3" y1="98.3" x2="383.3" y2="105.0" stroke="#2e8f2e" stroke-width="0.8"/>
<rect x="382.25" y="99.7" width="2.1" height="3.9" fill="#bfe0bf" stroke="#4c9f4c" stroke-width="0.55"/>
<line x1="386.1" y1="97.8" x2="386.1" y2="104.4" stroke="#ff0000" stroke-width="0.8"/>
<rect x="385.10" y="99.2" width="2.0" height="3.8" fill="#ff0000"/>
<line x1="387.8" y1="97.8" x2="387.8" y2="102.8" stroke="#ff0000" stroke-width="0.8"/>
<rect x="386.80" y="98.9" width="2.0" height="2.8" fill="#ff0000"/>
<line x1="390.6" y1="104.4" x2="390.6" y2="115.6" stroke="#ff0000" stroke-width="0.8"/>
<rect x="389.60" y="105.8" width="2.0" height="8.4" fill="#ff0000"/>
<line x1="393.3" y1="113.9" x2="393.3" y2="121.1" stroke="#ff0000" stroke-width="0.8"/>
<rect x="392.30" y="115.3" width="2.0" height="4.4" fill="#ff0000"/>
<line x1="395.6" y1="117.8" x2="395.6" y2="125.6" stroke="#ff0000" stroke-width="0.8"/>
<rect x="394.60" y="119.2" width="2.0" height="5.0" fill="#ff0000"/>
<line x1="398.3" y1="107.2" x2="398.3" y2="115.6" stroke="#2e8f2e" stroke-width="0.8"/>
<rect x="397.25" y="108.6" width="2.1" height="5.6" fill="#bfe0bf" stroke="#4c9f4c" stroke-width="0.55"/>
<line x1="400.9" y1="107.2" x2="400.9" y2="113.9" stroke="#ff0000" stroke-width="0.8"/>
<rect x="399.90" y="108.6" width="2.0" height="3.9" fill="#ff0000"/>
<line x1="403.3" y1="110.6" x2="403.3" y2="117.8" stroke="#2e8f2e" stroke-width="0.8"/>
<rect x="402.25" y="112.0" width="2.1" height="4.4" fill="#bfe0bf" stroke="#4c9f4c" stroke-width="0.55"/>
<line x1="405.9" y1="110.6" x2="405.9" y2="118.3" stroke="#ff0000" stroke-width="0.8"/>
<rect x="404.90" y="112.0" width="2.0" height="4.9" fill="#ff0000"/>
<line x1="408.6" y1="106.7" x2="408.6" y2="120.6" stroke="#2e8f2e" stroke-width="0.8"/>
<rect x="407.55" y="108.1" width="2.1" height="11.1" fill="#bfe0bf" stroke="#4c9f4c" stroke-width="0.55"/>
<line x1="411.1" y1="104.9" x2="411.1" y2="111.0" stroke="#2e8f2e" stroke-width="0.8"/>
<rect x="410.05" y="106.2" width="2.1" height="3.4" fill="#bfe0bf" stroke="#4c9f4c" stroke-width="0.55"/>
<line x1="413.3" y1="104.3" x2="413.3" y2="106.9" stroke="#ff0000" stroke-width="0.8"/>
<rect x="412.30" y="104.9" width="2.0" height="1.5" fill="#ff0000"/>
<line x1="416.0" y1="104.9" x2="416.0" y2="111.0" stroke="#ff0000" stroke-width="0.8"/>
<rect x="415.00" y="106.2" width="2.0" height="3.4" fill="#ff0000"/>
<line x1="418.4" y1="101.8" x2="418.4" y2="104.9" stroke="#2e8f2e" stroke-width="0.8"/>
<rect x="417.35" y="102.5" width="2.1" height="1.7" fill="#bfe0bf" stroke="#4c9f4c" stroke-width="0.55"/>
<line x1="420.7" y1="99.8" x2="420.7" y2="102.8" stroke="#2e8f2e" stroke-width="0.8"/>
<rect x="419.65" y="100.5" width="2.1" height="1.7" fill="#bfe0bf" stroke="#4c9f4c" stroke-width="0.55"/>
<line x1="423.5" y1="98.7" x2="423.5" y2="102.3" stroke="#2e8f2e" stroke-width="0.8"/>
<rect x="422.45" y="99.5" width="2.1" height="2.0" fill="#bfe0bf" stroke="#4c9f4c" stroke-width="0.55"/>
<line x1="426.1" y1="97.7" x2="426.1" y2="102.8" stroke="#ff0000" stroke-width="0.8"/>
<rect x="425.10" y="98.8" width="2.0" height="2.9" fill="#ff0000"/>
<line x1="428.6" y1="99.8" x2="428.6" y2="104.9" stroke="#2e8f2e" stroke-width="0.8"/>
<rect x="427.55" y="100.9" width="2.1" height="2.9" fill="#bfe0bf" stroke="#4c9f4c" stroke-width="0.55"/>
<line x1="431.2" y1="101.8" x2="431.2" y2="110.0" stroke="#ff0000" stroke-width="0.8"/>
<rect x="430.20" y="103.2" width="2.0" height="5.4" fill="#ff0000"/>
<line x1="434.0" y1="99.2" x2="434.0" y2="104.9" stroke="#2e8f2e" stroke-width="0.8"/>
<rect x="432.95" y="100.5" width="2.1" height="3.2" fill="#bfe0bf" stroke="#4c9f4c" stroke-width="0.55"/>
<line x1="436.0" y1="102.8" x2="436.0" y2="110.0" stroke="#ff0000" stroke-width="0.8"/>
<rect x="435.00" y="104.2" width="2.0" height="4.4" fill="#ff0000"/>
<line x1="438.8" y1="103.8" x2="438.8" y2="108.9" stroke="#2e8f2e" stroke-width="0.8"/>
<rect x="437.75" y="104.9" width="2.1" height="2.9" fill="#bfe0bf" stroke="#4c9f4c" stroke-width="0.55"/>
<line x1="441.6" y1="103.8" x2="441.6" y2="108.4" stroke="#2e8f2e" stroke-width="0.8"/>
<rect x="440.55" y="104.8" width="2.1" height="2.6" fill="#bfe0bf" stroke="#4c9f4c" stroke-width="0.55"/>
<line x1="443.9" y1="103.8" x2="443.9" y2="113.0" stroke="#2e8f2e" stroke-width="0.8"/>
<rect x="442.85" y="105.2" width="2.1" height="6.4" fill="#bfe0bf" stroke="#4c9f4c" stroke-width="0.55"/>
<line x1="446.5" y1="96.2" x2="446.5" y2="100.8" stroke="#2e8f2e" stroke-width="0.8"/>
<rect x="445.45" y="97.2" width="2.1" height="2.6" fill="#bfe0bf" stroke="#4c9f4c" stroke-width="0.55"/>
<line x1="449.0" y1="98.2" x2="449.0" y2="102.8" stroke="#ff0000" stroke-width="0.8"/>
<rect x="448.00" y="99.2" width="2.0" height="2.6" fill="#ff0000"/>
<line x1="451.6" y1="96.7" x2="451.6" y2="100.3" stroke="#2e8f2e" stroke-width="0.8"/>
<rect x="450.55" y="97.5" width="2.1" height="2.0" fill="#bfe0bf" stroke="#4c9f4c" stroke-width="0.55"/>
<line x1="454.1" y1="91.6" x2="454.1" y2="97.7" stroke="#2e8f2e" stroke-width="0.8"/>
<rect x="453.05" y="92.9" width="2.1" height="3.4" fill="#bfe0bf" stroke="#4c9f4c" stroke-width="0.55"/>
<line x1="456.7" y1="90.6" x2="456.7" y2="94.1" stroke="#2e8f2e" stroke-width="0.8"/>
<rect x="455.65" y="91.4" width="2.1" height="2.0" fill="#bfe0bf" stroke="#4c9f4c" stroke-width="0.55"/>
<line x1="459.2" y1="78.9" x2="459.2" y2="93.6" stroke="#2e8f2e" stroke-width="0.8"/>
<rect x="458.15" y="80.3" width="2.1" height="11.9" fill="#bfe0bf" stroke="#4c9f4c" stroke-width="0.55"/>
<line x1="461.8" y1="80.4" x2="461.8" y2="85.5" stroke="#2e8f2e" stroke-width="0.8"/>
<rect x="460.75" y="81.5" width="2.1" height="2.9" fill="#bfe0bf" stroke="#4c9f4c" stroke-width="0.55"/>
<line x1="464.3" y1="76.8" x2="464.3" y2="79.4" stroke="#2e8f2e" stroke-width="0.8"/>
<rect x="463.25" y="77.4" width="2.1" height="1.5" fill="#bfe0bf" stroke="#4c9f4c" stroke-width="0.55"/>
<line x1="466.6" y1="78.3" x2="466.6" y2="86.5" stroke="#ff0000" stroke-width="0.8"/>
<rect x="465.60" y="79.7" width="2.0" height="5.4" fill="#ff0000"/>
<line x1="469.1" y1="79.4" x2="469.1" y2="83.4" stroke="#2e8f2e" stroke-width="0.8"/>
<rect x="468.05" y="80.3" width="2.1" height="2.2" fill="#bfe0bf" stroke="#4c9f4c" stroke-width="0.55"/>
<line x1="471.2" y1="79.0" x2="471.2" y2="83.5" stroke="#2e8f2e" stroke-width="0.8"/>
<rect x="470.15" y="80.0" width="2.1" height="2.5" fill="#bfe0bf" stroke="#4c9f4c" stroke-width="0.55"/>
<line x1="474.6" y1="72.5" x2="474.6" y2="80.0" stroke="#2e8f2e" stroke-width="0.8"/>
<rect x="473.55" y="73.9" width="2.1" height="4.7" fill="#bfe0bf" stroke="#4c9f4c" stroke-width="0.55"/>
<line x1="476.8" y1="79.2" x2="476.8" y2="81.7" stroke="#ff0000" stroke-width="0.8"/>
<rect x="475.80" y="79.8" width="2.0" height="1.4" fill="#ff0000"/>
<line x1="479.6" y1="79.2" x2="479.6" y2="82.9" stroke="#2e8f2e" stroke-width="0.8"/>
<rect x="478.55" y="80.0" width="2.1" height="2.1" fill="#bfe0bf" stroke="#4c9f4c" stroke-width="0.55"/>
<line x1="482.1" y1="78.3" x2="482.1" y2="89.6" stroke="#ff0000" stroke-width="0.8"/>
<rect x="481.10" y="79.7" width="2.0" height="8.5" fill="#ff0000"/>
<line x1="484.6" y1="86.7" x2="484.6" y2="95.8" stroke="#2e8f2e" stroke-width="0.8"/>
<rect x="483.55" y="88.1" width="2.1" height="6.3" fill="#bfe0bf" stroke="#4c9f4c" stroke-width="0.55"/>
<line x1="487.1" y1="80.8" x2="487.1" y2="87.1" stroke="#2e8f2e" stroke-width="0.8"/>
<rect x="486.05" y="82.2" width="2.1" height="3.5" fill="#bfe0bf" stroke="#4c9f4c" stroke-width="0.55"/>
<line x1="489.8" y1="78.8" x2="489.8" y2="82.5" stroke="#ff0000" stroke-width="0.8"/>
<rect x="488.80" y="79.6" width="2.0" height="2.1" fill="#ff0000"/>
<line x1="492.1" y1="79.2" x2="492.1" y2="83.8" stroke="#ff0000" stroke-width="0.8"/>
<rect x="491.10" y="80.2" width="2.0" height="2.6" fill="#ff0000"/>
<line x1="494.6" y1="74.2" x2="494.6" y2="83.3" stroke="#2e8f2e" stroke-width="0.8"/>
<rect x="493.55" y="75.6" width="2.1" height="6.3" fill="#bfe0bf" stroke="#4c9f4c" stroke-width="0.55"/>
<line x1="497.5" y1="69.2" x2="497.5" y2="71.7" stroke="#2e8f2e" stroke-width="0.8"/>
<rect x="496.45" y="69.8" width="2.1" height="1.4" fill="#bfe0bf" stroke="#4c9f4c" stroke-width="0.55"/>
<line x1="499.6" y1="67.5" x2="499.6" y2="71.3" stroke="#ff0000" stroke-width="0.8"/>
<rect x="498.60" y="68.3" width="2.0" height="2.1" fill="#ff0000"/>
<line x1="502.3" y1="67.1" x2="502.3" y2="72.5" stroke="#2e8f2e" stroke-width="0.8"/>
<rect x="501.25" y="68.3" width="2.1" height="3.0" fill="#bfe0bf" stroke="#4c9f4c" stroke-width="0.55"/>
<line x1="505.0" y1="67.9" x2="505.0" y2="71.7" stroke="#ff0000" stroke-width="0.8"/>
<rect x="504.00" y="68.7" width="2.0" height="2.1" fill="#ff0000"/>
<line x1="507.5" y1="70.0" x2="507.5" y2="73.8" stroke="#ff0000" stroke-width="0.8"/>
<rect x="506.50" y="70.8" width="2.0" height="2.1" fill="#ff0000"/>
<line x1="510.0" y1="71.7" x2="510.0" y2="80.0" stroke="#ff0000" stroke-width="0.8"/>
<rect x="509.00" y="73.1" width="2.0" height="5.5" fill="#ff0000"/>
<line x1="512.7" y1="75.4" x2="512.7" y2="84.6" stroke="#ff0000" stroke-width="0.8"/>
<rect x="511.70" y="76.8" width="2.0" height="6.4" fill="#ff0000"/>
<line x1="515.0" y1="88.3" x2="515.0" y2="97.9" stroke="#ff0000" stroke-width="0.8"/>
<rect x="514.00" y="89.7" width="2.0" height="6.8" fill="#ff0000"/>
<line x1="517.7" y1="82.5" x2="517.7" y2="89.6" stroke="#2e8f2e" stroke-width="0.8"/>
<rect x="516.65" y="83.9" width="2.1" height="4.3" fill="#bfe0bf" stroke="#4c9f4c" stroke-width="0.55"/>
<line x1="520.4" y1="81.7" x2="520.4" y2="87.5" stroke="#ff0000" stroke-width="0.8"/>
<rect x="519.40" y="83.0" width="2.0" height="3.2" fill="#ff0000"/>
<line x1="522.7" y1="83.8" x2="522.7" y2="86.7" stroke="#ff0000" stroke-width="0.8"/>
<rect x="521.70" y="84.4" width="2.0" height="1.6" fill="#ff0000"/>
<line x1="525.2" y1="80.8" x2="525.2" y2="89.2" stroke="#ff0000" stroke-width="0.8"/>
<rect x="524.20" y="82.2" width="2.0" height="5.6" fill="#ff0000"/>
<line x1="527.5" y1="83.8" x2="527.5" y2="86.3" stroke="#2e8f2e" stroke-width="0.8"/>
<rect x="526.45" y="84.3" width="2.1" height="1.4" fill="#bfe0bf" stroke="#4c9f4c" stroke-width="0.55"/>
<line x1="530.2" y1="83.3" x2="530.2" y2="88.3" stroke="#ff0000" stroke-width="0.8"/>
<rect x="529.20" y="84.4" width="2.0" height="2.8" fill="#ff0000"/>
<line x1="533.0" y1="78.4" x2="533.0" y2="85.5" stroke="#2e8f2e" stroke-width="0.8"/>
<rect x="531.95" y="79.8" width="2.1" height="4.3" fill="#bfe0bf" stroke="#4c9f4c" stroke-width="0.55"/>
<line x1="535.3" y1="68.0" x2="535.3" y2="76.8" stroke="#2e8f2e" stroke-width="0.8"/>
<rect x="534.25" y="69.4" width="2.1" height="6.0" fill="#bfe0bf" stroke="#4c9f4c" stroke-width="0.55"/>
<line x1="538.0" y1="71.3" x2="538.0" y2="76.3" stroke="#ff0000" stroke-width="0.8"/>
<rect x="537.00" y="72.4" width="2.0" height="2.8" fill="#ff0000"/>
<line x1="540.3" y1="71.3" x2="540.3" y2="75.0" stroke="#ff0000" stroke-width="0.8"/>
<rect x="539.30" y="72.1" width="2.0" height="2.1" fill="#ff0000"/>
<line x1="542.7" y1="72.2" x2="542.7" y2="75.9" stroke="#ff0000" stroke-width="0.8"/>
<rect x="541.70" y="73.0" width="2.0" height="2.1" fill="#ff0000"/>
<line x1="545.8" y1="68.8" x2="545.8" y2="75.0" stroke="#2e8f2e" stroke-width="0.8"/>
<rect x="544.75" y="70.2" width="2.1" height="3.5" fill="#bfe0bf" stroke="#4c9f4c" stroke-width="0.55"/>
<line x1="548.3" y1="70.1" x2="548.3" y2="74.7" stroke="#ff0000" stroke-width="0.8"/>
<rect x="547.30" y="71.1" width="2.0" height="2.6" fill="#ff0000"/>
<line x1="550.5" y1="72.2" x2="550.5" y2="76.8" stroke="#ff0000" stroke-width="0.8"/>
<rect x="549.50" y="73.2" width="2.0" height="2.6" fill="#ff0000"/>
<line x1="553.5" y1="59.3" x2="553.5" y2="71.8" stroke="#2e8f2e" stroke-width="0.8"/>
<rect x="552.45" y="60.7" width="2.1" height="9.7" fill="#bfe0bf" stroke="#4c9f4c" stroke-width="0.55"/>
<line x1="555.8" y1="62.6" x2="555.8" y2="66.3" stroke="#ff0000" stroke-width="0.8"/>
<rect x="554.80" y="63.4" width="2.0" height="2.1" fill="#ff0000"/>
<line x1="558.3" y1="64.7" x2="558.3" y2="68.4" stroke="#2e8f2e" stroke-width="0.8"/>
<rect x="557.25" y="65.5" width="2.1" height="2.1" fill="#bfe0bf" stroke="#4c9f4c" stroke-width="0.55"/>
<line x1="561.2" y1="63.0" x2="561.2" y2="67.2" stroke="#2e8f2e" stroke-width="0.8"/>
<rect x="560.15" y="63.9" width="2.1" height="2.4" fill="#bfe0bf" stroke="#4c9f4c" stroke-width="0.55"/>
<line x1="563.5" y1="62.2" x2="563.5" y2="66.8" stroke="#ff0000" stroke-width="0.8"/>
<rect x="562.50" y="63.2" width="2.0" height="2.6" fill="#ff0000"/>
<line x1="566.0" y1="61.8" x2="566.0" y2="66.3" stroke="#ff0000" stroke-width="0.8"/>
<rect x="565.00" y="62.8" width="2.0" height="2.5" fill="#ff0000"/>
<line x1="568.3" y1="69.3" x2="568.3" y2="73.8" stroke="#ff0000" stroke-width="0.8"/>
<rect x="567.30" y="70.3" width="2.0" height="2.5" fill="#ff0000"/>
<line x1="570.8" y1="68.8" x2="570.8" y2="74.7" stroke="#ff0000" stroke-width="0.8"/>
<rect x="569.80" y="70.1" width="2.0" height="3.3" fill="#ff0000"/>
<line x1="573.7" y1="65.9" x2="573.7" y2="73.0" stroke="#2e8f2e" stroke-width="0.8"/>
<rect x="572.65" y="67.3" width="2.1" height="4.3" fill="#bfe0bf" stroke="#4c9f4c" stroke-width="0.55"/>
<line x1="575.8" y1="60.1" x2="575.8" y2="68.8" stroke="#2e8f2e" stroke-width="0.8"/>
<rect x="574.75" y="61.5" width="2.1" height="5.9" fill="#bfe0bf" stroke="#4c9f4c" stroke-width="0.55"/>
<line x1="578.7" y1="64.3" x2="578.7" y2="68.8" stroke="#ff0000" stroke-width="0.8"/>
<rect x="577.70" y="65.3" width="2.0" height="2.5" fill="#ff0000"/>
<line x1="581.2" y1="66.3" x2="581.2" y2="68.8" stroke="#ff0000" stroke-width="0.8"/>
<rect x="580.20" y="66.8" width="2.0" height="1.4" fill="#ff0000"/>
<line x1="583.5" y1="64.3" x2="583.5" y2="70.9" stroke="#ff0000" stroke-width="0.8"/>
<rect x="582.50" y="65.7" width="2.0" height="3.8" fill="#ff0000"/>
<line x1="586.3" y1="57.2" x2="586.3" y2="68.4" stroke="#2e8f2e" stroke-width="0.8"/>
<rect x="585.25" y="58.6" width="2.1" height="8.4" fill="#bfe0bf" stroke="#4c9f4c" stroke-width="0.55"/>
<line x1="589.1" y1="58.0" x2="589.1" y2="63.0" stroke="#ff0000" stroke-width="0.8"/>
<rect x="588.10" y="59.1" width="2.0" height="2.8" fill="#ff0000"/>
<line x1="591.3" y1="61.3" x2="591.3" y2="64.7" stroke="#ff0000" stroke-width="0.8"/>
<rect x="590.30" y="62.0" width="2.0" height="1.9" fill="#ff0000"/>
<line x1="594.2" y1="62.6" x2="594.2" y2="67.5" stroke="#ff0000" stroke-width="0.8"/>
<rect x="593.20" y="63.7" width="2.0" height="2.7" fill="#ff0000"/>
<line x1="596.5" y1="57.0" x2="596.5" y2="69.5" stroke="#2e8f2e" stroke-width="0.8"/>
<rect x="595.45" y="58.4" width="2.1" height="9.7" fill="#bfe0bf" stroke="#4c9f4c" stroke-width="0.55"/>
<line x1="599.0" y1="59.5" x2="599.0" y2="64.1" stroke="#2e8f2e" stroke-width="0.8"/>
<rect x="597.95" y="60.5" width="2.1" height="2.6" fill="#bfe0bf" stroke="#4c9f4c" stroke-width="0.55"/>
<line x1="601.3" y1="59.1" x2="601.3" y2="63.3" stroke="#ff0000" stroke-width="0.8"/>
<rect x="600.30" y="60.0" width="2.0" height="2.4" fill="#ff0000"/>
<line x1="604.2" y1="63.3" x2="604.2" y2="68.7" stroke="#ff0000" stroke-width="0.8"/>
<rect x="603.20" y="64.5" width="2.0" height="3.0" fill="#ff0000"/>
<line x1="606.5" y1="59.5" x2="606.5" y2="64.5" stroke="#2e8f2e" stroke-width="0.8"/>
<rect x="605.45" y="60.6" width="2.1" height="2.8" fill="#bfe0bf" stroke="#4c9f4c" stroke-width="0.55"/>
<line x1="609.0" y1="62.0" x2="609.0" y2="66.2" stroke="#ff0000" stroke-width="0.8"/>
<rect x="608.00" y="62.9" width="2.0" height="2.4" fill="#ff0000"/>
<line x1="611.7" y1="67.8" x2="611.7" y2="73.7" stroke="#ff0000" stroke-width="0.8"/>
<rect x="610.70" y="69.1" width="2.0" height="3.3" fill="#ff0000"/>
<line x1="614.2" y1="63.7" x2="614.2" y2="69.9" stroke="#2e8f2e" stroke-width="0.8"/>
<rect x="613.15" y="65.1" width="2.1" height="3.5" fill="#bfe0bf" stroke="#4c9f4c" stroke-width="0.55"/>
<line x1="616.5" y1="60.8" x2="616.5" y2="63.7" stroke="#2e8f2e" stroke-width="0.8"/>
<rect x="615.45" y="61.4" width="2.1" height="1.6" fill="#bfe0bf" stroke="#4c9f4c" stroke-width="0.55"/>
<line x1="619.0" y1="59.9" x2="619.0" y2="64.5" stroke="#2e8f2e" stroke-width="0.8"/>
<rect x="617.95" y="60.9" width="2.1" height="2.6" fill="#bfe0bf" stroke="#4c9f4c" stroke-width="0.55"/>
<line x1="621.1" y1="58.3" x2="621.1" y2="63.3" stroke="#2e8f2e" stroke-width="0.8"/>
<rect x="620.05" y="59.4" width="2.1" height="2.8" fill="#bfe0bf" stroke="#4c9f4c" stroke-width="0.55"/>
<line x1="623.2" y1="56.6" x2="623.2" y2="61.6" stroke="#2e8f2e" stroke-width="0.8"/>
<rect x="622.15" y="57.7" width="2.1" height="2.8" fill="#bfe0bf" stroke="#4c9f4c" stroke-width="0.55"/>
<line x1="625.0" y1="55.8" x2="625.0" y2="59.5" stroke="#2e8f2e" stroke-width="0.8"/>
<rect x="623.95" y="56.6" width="2.1" height="2.1" fill="#bfe0bf" stroke="#4c9f4c" stroke-width="0.55"/>
<line x1="627.2" y1="50.3" x2="627.2" y2="55.8" stroke="#2e8f2e" stroke-width="0.8"/>
<rect x="626.15" y="51.5" width="2.1" height="3.1" fill="#bfe0bf" stroke="#4c9f4c" stroke-width="0.55"/>
<line x1="629.7" y1="51.2" x2="629.7" y2="54.9" stroke="#ff0000" stroke-width="0.8"/>
<rect x="628.70" y="52.0" width="2.0" height="2.1" fill="#ff0000"/>
<line x1="631.9" y1="52.4" x2="631.9" y2="58.3" stroke="#ff0000" stroke-width="0.8"/>
<rect x="630.90" y="53.7" width="2.0" height="3.3" fill="#ff0000"/>
<line x1="634.7" y1="54.1" x2="634.7" y2="59.9" stroke="#2e8f2e" stroke-width="0.8"/>
<rect x="633.65" y="55.4" width="2.1" height="3.2" fill="#bfe0bf" stroke="#4c9f4c" stroke-width="0.55"/>
<line x1="637.2" y1="54.5" x2="637.2" y2="62.0" stroke="#ff0000" stroke-width="0.8"/>
<rect x="636.20" y="55.9" width="2.0" height="4.7" fill="#ff0000"/>
<line x1="639.4" y1="59.1" x2="639.4" y2="77.8" stroke="#ff0000" stroke-width="0.8"/>
<rect x="638.40" y="60.5" width="2.0" height="15.9" fill="#ff0000"/>
<line x1="641.9" y1="68.3" x2="641.9" y2="73.7" stroke="#2e8f2e" stroke-width="0.8"/>
<rect x="640.85" y="69.5" width="2.1" height="3.0" fill="#bfe0bf" stroke="#4c9f4c" stroke-width="0.55"/>
<line x1="645.0" y1="62.0" x2="645.0" y2="76.2" stroke="#2e8f2e" stroke-width="0.8"/>
<rect x="643.95" y="63.4" width="2.1" height="11.4" fill="#bfe0bf" stroke="#4c9f4c" stroke-width="0.55"/>
<line x1="647.3" y1="57.0" x2="647.3" y2="67.0" stroke="#2e8f2e" stroke-width="0.8"/>
<rect x="646.25" y="58.4" width="2.1" height="7.2" fill="#bfe0bf" stroke="#4c9f4c" stroke-width="0.55"/>
<line x1="649.7" y1="62.0" x2="649.7" y2="72.0" stroke="#ff0000" stroke-width="0.8"/>
<rect x="648.70" y="63.4" width="2.0" height="7.2" fill="#ff0000"/>
<line x1="652.8" y1="65.8" x2="652.8" y2="70.8" stroke="#2e8f2e" stroke-width="0.8"/>
<rect x="651.75" y="66.9" width="2.1" height="2.8" fill="#bfe0bf" stroke="#4c9f4c" stroke-width="0.55"/>
<line x1="655.3" y1="58.3" x2="655.3" y2="63.3" stroke="#2e8f2e" stroke-width="0.8"/>
<rect x="654.25" y="59.4" width="2.1" height="2.8" fill="#bfe0bf" stroke="#4c9f4c" stroke-width="0.55"/>
<line x1="657.3" y1="54.1" x2="657.3" y2="58.7" stroke="#2e8f2e" stroke-width="0.8"/>
<rect x="656.25" y="55.1" width="2.1" height="2.6" fill="#bfe0bf" stroke="#4c9f4c" stroke-width="0.55"/>
<line x1="660.4" y1="55.0" x2="660.4" y2="62.0" stroke="#ff0000" stroke-width="0.8"/>
<rect x="659.40" y="55.2" width="2.0" height="6.3" fill="#ff0000"/>
<line x1="663.0" y1="55.0" x2="663.0" y2="60.5" stroke="#2e8f2e" stroke-width="0.8"/>
<rect x="661.95" y="55.0" width="2.1" height="4.8" fill="#bfe0bf" stroke="#4c9f4c" stroke-width="0.55"/>
<line x1="664.6" y1="51.0" x2="664.6" y2="54.0" stroke="#2e8f2e" stroke-width="0.8"/>
<rect x="663.55" y="51.2" width="2.1" height="2.3" fill="#bfe0bf" stroke="#4c9f4c" stroke-width="0.55"/>
<line x1="667.5" y1="50.3" x2="667.5" y2="52.8" stroke="#2e8f2e" stroke-width="0.8"/>
<rect x="666.45" y="50.6" width="2.1" height="1.7" fill="#bfe0bf" stroke="#4c9f4c" stroke-width="0.55"/>
<line x1="670.0" y1="52.0" x2="670.0" y2="58.0" stroke="#ff0000" stroke-width="0.8"/>
<rect x="669.00" y="52.3" width="2.0" height="5.2" fill="#ff0000"/>
<line x1="672.7" y1="58.0" x2="672.7" y2="68.0" stroke="#ff0000" stroke-width="0.8"/>
<rect x="671.70" y="58.6" width="2.0" height="9.2" fill="#ff0000"/>
<line x1="675.5" y1="61.0" x2="675.5" y2="68.0" stroke="#2e8f2e" stroke-width="0.8"/>
<rect x="674.50" y="62.0" width="2.0" height="5.5" fill="#2e8f2e"/>
<line x1="677.8" y1="66.5" x2="677.8" y2="71.0" stroke="#2e8f2e" stroke-width="0.8"/>
<rect x="676.75" y="67.0" width="2.1" height="3.7" fill="#bfe0bf" stroke="#4c9f4c" stroke-width="0.55"/>
<line x1="680.1" y1="67.0" x2="680.1" y2="76.5" stroke="#ff0000" stroke-width="0.8"/>
<rect x="679.10" y="67.2" width="2.0" height="8.8" fill="#ff0000"/>
<line x1="683.0" y1="72.0" x2="683.0" y2="74.5" stroke="#2e8f2e" stroke-width="0.8"/>
<rect x="682.00" y="72.4" width="2.0" height="1.6" fill="#2e8f2e"/>
<line x1="685.8" y1="67.5" x2="685.8" y2="74.5" stroke="#2e8f2e" stroke-width="0.8"/>
<rect x="684.75" y="68.0" width="2.1" height="6.1" fill="#bfe0bf" stroke="#4c9f4c" stroke-width="0.55"/>
<line x1="687.9" y1="67.0" x2="687.9" y2="73.5" stroke="#ff0000" stroke-width="0.8"/>
<rect x="686.90" y="67.2" width="2.0" height="5.8" fill="#ff0000"/>
<line x1="690.4" y1="67.0" x2="690.4" y2="77.5" stroke="#2e8f2e" stroke-width="0.8"/>
<rect x="689.35" y="67.2" width="2.1" height="9.8" fill="#bfe0bf" stroke="#4c9f4c" stroke-width="0.55"/>
<line x1="693.3" y1="63.0" x2="693.3" y2="67.0" stroke="#2e8f2e" stroke-width="0.8"/>
<rect x="692.25" y="63.2" width="2.1" height="3.5" fill="#bfe0bf" stroke="#4c9f4c" stroke-width="0.55"/>
<line x1="696.1" y1="59.0" x2="696.1" y2="63.5" stroke="#2e8f2e" stroke-width="0.8"/>
<rect x="695.05" y="59.2" width="2.1" height="4.0" fill="#bfe0bf" stroke="#4c9f4c" stroke-width="0.55"/>
<line x1="697.9" y1="56.4" x2="697.9" y2="60.0" stroke="#2e8f2e" stroke-width="0.8"/>
<rect x="696.85" y="56.5" width="2.1" height="3.3" fill="#bfe0bf" stroke="#4c9f4c" stroke-width="0.55"/>
<line x1="700.7" y1="58.5" x2="700.7" y2="67.0" stroke="#ff0000" stroke-width="0.8"/>
<rect x="699.70" y="58.6" width="2.0" height="8.1" fill="#ff0000"/>
<line x1="703.0" y1="65.0" x2="703.0" y2="71.5" stroke="#ff0000" stroke-width="0.8"/>
<rect x="702.00" y="65.5" width="2.0" height="5.8" fill="#ff0000"/>
<line x1="705.5" y1="68.5" x2="705.5" y2="79.5" stroke="#ff0000" stroke-width="0.8"/>
<rect x="704.50" y="69.0" width="2.0" height="10.0" fill="#ff0000"/>
<line x1="708.5" y1="75.5" x2="708.5" y2="82.0" stroke="#2e8f2e" stroke-width="0.8"/>
<rect x="707.45" y="76.0" width="2.1" height="5.6" fill="#bfe0bf" stroke="#4c9f4c" stroke-width="0.55"/>
<line x1="711.0" y1="76.0" x2="711.0" y2="80.6" stroke="#ff0000" stroke-width="0.8"/>
<rect x="710.00" y="76.4" width="2.0" height="4.0" fill="#ff0000"/>
<line x1="713.3" y1="72.0" x2="713.3" y2="89.6" stroke="#ff0000" stroke-width="0.8"/>
<rect x="712.30" y="72.4" width="2.0" height="11.6" fill="#ff0000"/>
<line x1="715.6" y1="72.0" x2="715.6" y2="85.5" stroke="#2e8f2e" stroke-width="0.8"/>
<rect x="714.55" y="72.4" width="2.1" height="12.6" fill="#bfe0bf" stroke="#4c9f4c" stroke-width="0.55"/>
<line x1="718.5" y1="72.0" x2="718.5" y2="76.0" stroke="#2e8f2e" stroke-width="0.8"/>
<rect x="717.45" y="72.4" width="2.1" height="3.4" fill="#bfe0bf" stroke="#4c9f4c" stroke-width="0.55"/>
<path d="M314.2,199.2 C314.8,198.3 316.8,195.5 318.0,194.0 C319.2,192.5 320.2,191.5 321.7,190.0 C323.1,188.5 325.1,186.2 326.7,185.0 C328.2,183.8 329.6,183.5 331.0,183.0 C332.4,182.5 332.9,182.8 335.0,182.0 C337.1,181.2 339.7,180.0 343.3,178.3 C346.9,176.6 353.4,173.2 356.7,171.7 C360.0,170.2 360.8,170.3 363.0,169.5 C365.2,168.7 367.7,168.3 370.0,167.0 C372.3,165.7 374.2,163.4 376.7,161.7 C379.2,160.0 382.2,158.5 385.0,157.0 C387.8,155.5 390.2,154.1 393.3,152.5 C396.4,150.9 399.1,149.2 403.3,147.5 C407.5,145.8 413.6,144.3 418.3,142.5 C423.0,140.7 425.3,138.7 431.7,136.7 C438.1,134.7 448.6,132.9 456.7,130.5 C464.8,128.1 471.9,125.0 480.0,122.5 C488.1,120.0 495.8,117.3 505.0,115.2 C514.2,113.1 523.0,112.0 535.0,110.0 C547.0,108.0 563.5,105.2 577.0,103.0 C590.5,100.8 603.0,98.5 616.0,96.5 C629.0,94.5 642.7,92.4 655.0,91.0 C667.3,89.6 679.4,88.9 690.0,88.0 C700.6,87.1 713.7,86.0 718.4,85.6" fill="none" stroke="#5050ff" stroke-width="1.0"/>
<path d="M446.3,80.4 A149.16,49.73 0 0 1 741.3,80.4" fill="none" stroke="#ff2a2a" stroke-width="1.35" stroke-linecap="round"/>
<text x="171.8" y="29.1" font-size="20" fill="#1c1c8c" textLength="190.6" lengthAdjust="spacingAndGlyphs">Equal Weight S&amp;P500</text>
<text x="245.2" y="55" font-size="20" fill="#1c1c8c" textLength="48" lengthAdjust="spacingAndGlyphs">(RSP)</text>
<g clip-path="url(#cbox)">
<rect x="903" y="57" width="49" height="19.3" fill="#008000"/>
<text x="906.3" y="71.4" font-size="14" fill="#fff" textLength="43" lengthAdjust="spacingAndGlyphs">186.64</text>
<rect x="903" y="76.5" width="49" height="19" fill="#0000ff"/>
<text x="906.3" y="90.8" font-size="14" fill="#fff" textLength="43" lengthAdjust="spacingAndGlyphs">182.97</text>
</g>
<line x1="899.5" y1="72" x2="902.5" y2="66" stroke="#5fbf5f" stroke-width="0.8"/>
<line x1="899" y1="86.5" x2="903" y2="86.5" stroke="#6a6aff" stroke-width="0.8"/>
<rect x="943.8" y="1.7" width="12.5" height="12.6" fill="#fff" stroke="#e4e4e4" stroke-width="1"/>
<path d="M947.0999999999999,7.4 v-1.6 a2.55,2.55 0 0 1 5.1,0 v1.6" fill="none" stroke="#6e6e6e" stroke-width="1.7"/>
<rect x="945.5999999999999" y="7.1000000000000005" width="8.3" height="5.4" rx="1" fill="#6e6e6e"/>
<rect x="949.1999999999999" y="9.0" width="1.1" height="2" fill="#b8b8b8"/>
<rect x="950.8" y="120" width="5.7000000000000455" height="13.3" fill="#fff"/>
<path d="M950.8,120.5 H956.5 M951.3,120 V133.3 M950.8,132.8 H956.5" fill="none" stroke="#ececec" stroke-width="1"/>
<path d="M955.0999999999999,124.65 l-2,2 l2,2" fill="none" stroke="#555" stroke-width="1.1"/>
<path d="M720.8,194.7 V182.9 H731.6" fill="none" stroke="#0f3264" stroke-width="1.5"/>
<path d="M866.6,214.2 H877.8 V203" fill="none" stroke="#0f3264" stroke-width="1.5"/>
<text x="725.1" y="196.3" font-size="10.9" font-weight="bold" fill="#0f3264" stroke="#0f3264" stroke-width="0.85" textLength="15.6" lengthAdjust="spacingAndGlyphs">THE</text>
<text transform="translate(744.6,209.3) scale(0.635,1)" x="0" y="0" font-size="29" font-weight="bold" fill="#0f3264" stroke="#0f3264" stroke-width="1.6" stroke-linejoin="round" letter-spacing="2.2">STRAZZA</text>
<text x="841.7" y="209.5" font-size="11" font-weight="bold" fill="#0f3264" stroke="#0f3264" stroke-width="0.8" textLength="30.2" lengthAdjust="spacingAndGlyphs">LETTER</text>
<text x="7" y="271.8" font-size="6" fill="#383838" stroke="#383838" stroke-width="0.12" textLength="253" lengthAdjust="spacingAndGlyphs">US Dollar Index (Electronic) Volume Spot - DXTVolSpot (US) - Daily CandleStick Chart - USD - No Layout</text>
<rect x="3.5" y="275.5" width="953" height="259.5" fill="#fff" stroke="#e3e3e3" stroke-width="1"/>
<line x1="3.5" y1="507.5" x2="956.5" y2="507.5" stroke="#e3e3e3"/>
<line x1="899.5" y1="275.5" x2="899.5" y2="507.5" stroke="#e3e3e3"/>
<line x1="66.5" y1="507.5" x2="66.5" y2="535" stroke="#e3e3e3" stroke-width="1"/>
<line x1="172.5" y1="507.5" x2="172.5" y2="535" stroke="#e3e3e3" stroke-width="1"/>
<line x1="278.5" y1="507.5" x2="278.5" y2="535" stroke="#e3e3e3" stroke-width="1"/>
<line x1="386.5" y1="507.5" x2="386.5" y2="535" stroke="#e3e3e3" stroke-width="1"/>
<line x1="496.5" y1="507.5" x2="496.5" y2="535" stroke="#e3e3e3" stroke-width="1"/>
<line x1="608.5" y1="507.5" x2="608.5" y2="535" stroke="#e3e3e3" stroke-width="1"/>
<line x1="720.5" y1="507.5" x2="720.5" y2="535" stroke="#e3e3e3" stroke-width="1"/>
<line x1="831.5" y1="507.5" x2="831.5" y2="535" stroke="#e3e3e3" stroke-width="1"/>
<text x="68.3" y="526" font-size="14" fill="#3a3a3a" stroke="#3a3a3a" stroke-width="0.15" textLength="26.1" lengthAdjust="spacingAndGlyphs">Nov</text>
<text x="174.3" y="526" font-size="14" fill="#3a3a3a" stroke="#3a3a3a" stroke-width="0.15" textLength="32.7" lengthAdjust="spacingAndGlyphs">2025</text>
<text x="280.5" y="526" font-size="14" fill="#3a3a3a" stroke="#3a3a3a" stroke-width="0.15" textLength="25.3" lengthAdjust="spacingAndGlyphs">Mar</text>
<text x="388.8" y="526" font-size="14" fill="#3a3a3a" stroke="#3a3a3a" stroke-width="0.15" textLength="27.8" lengthAdjust="spacingAndGlyphs">May</text>
<text x="497" y="526" font-size="14" fill="#3a3a3a" stroke="#3a3a3a" stroke-width="0.15" textLength="18.8" lengthAdjust="spacingAndGlyphs">Jul</text>
<text x="609.5" y="526" font-size="14" fill="#3a3a3a" stroke="#3a3a3a" stroke-width="0.15" textLength="26.2" lengthAdjust="spacingAndGlyphs">Sep</text>
<text x="722" y="526" font-size="14" fill="#3a3a3a" stroke="#3a3a3a" stroke-width="0.15" textLength="26.1" lengthAdjust="spacingAndGlyphs">Nov</text>
<text x="833" y="526" font-size="14" fill="#3a3a3a" stroke="#3a3a3a" stroke-width="0.15" textLength="32.7" lengthAdjust="spacingAndGlyphs">2026</text>
<text x="904.2" y="281.2" font-size="14" fill="#3a3a3a" stroke="#3a3a3a" stroke-width="0.15" textLength="52.0" lengthAdjust="spacingAndGlyphs" clip-path="url(#cbot)">115.000</text>
<line x1="900" y1="290.9" x2="903.5" y2="290.9" stroke="#777" stroke-width="1"/>
<text x="904.2" y="295.9" font-size="14" fill="#3a3a3a" stroke="#3a3a3a" stroke-width="0.15" textLength="52.0" lengthAdjust="spacingAndGlyphs" clip-path="url(#cbot)">114.000</text>
<line x1="900" y1="310.2" x2="903.5" y2="310.2" stroke="#777" stroke-width="1"/>
<text x="904.2" y="315.2" font-size="14" fill="#3a3a3a" stroke="#3a3a3a" stroke-width="0.15" textLength="52.0" lengthAdjust="spacingAndGlyphs" clip-path="url(#cbot)">112.000</text>
<line x1="900" y1="330.1" x2="903.5" y2="330.1" stroke="#777" stroke-width="1"/>
<text x="904.2" y="335.1" font-size="14" fill="#3a3a3a" stroke="#3a3a3a" stroke-width="0.15" textLength="52.0" lengthAdjust="spacingAndGlyphs" clip-path="url(#cbot)">110.000</text>
<line x1="900" y1="350.6" x2="903.5" y2="350.6" stroke="#777" stroke-width="1"/>
<text x="904.2" y="355.6" font-size="14" fill="#3a3a3a" stroke="#3a3a3a" stroke-width="0.15" textLength="53.1" lengthAdjust="spacingAndGlyphs" clip-path="url(#cbot)">108.000</text>
<line x1="900" y1="371.1" x2="903.5" y2="371.1" stroke="#777" stroke-width="1"/>
<text x="904.2" y="376.1" font-size="14" fill="#3a3a3a" stroke="#3a3a3a" stroke-width="0.15" textLength="53.1" lengthAdjust="spacingAndGlyphs" clip-path="url(#cbot)">106.000</text>
<line x1="900" y1="392.6" x2="903.5" y2="392.6" stroke="#777" stroke-width="1"/>
<text x="904.2" y="397.6" font-size="14" fill="#3a3a3a" stroke="#3a3a3a" stroke-width="0.15" textLength="53.1" lengthAdjust="spacingAndGlyphs" clip-path="url(#cbot)">104.000</text>
<line x1="900" y1="414.4" x2="903.5" y2="414.4" stroke="#777" stroke-width="1"/>
<text x="904.2" y="419.4" font-size="14" fill="#3a3a3a" stroke="#3a3a3a" stroke-width="0.15" textLength="53.1" lengthAdjust="spacingAndGlyphs" clip-path="url(#cbot)">102.000</text>
<line x1="900" y1="435.9" x2="903.5" y2="435.9" stroke="#777" stroke-width="1"/>
<text x="904.2" y="440.9" font-size="14" fill="#3a3a3a" stroke="#3a3a3a" stroke-width="0.15" textLength="53.1" lengthAdjust="spacingAndGlyphs" clip-path="url(#cbot)">100.000</text>
<line x1="900" y1="458.3" x2="903.5" y2="458.3" stroke="#777" stroke-width="1"/>
<text x="904.2" y="463.3" font-size="14" fill="#3a3a3a" stroke="#3a3a3a" stroke-width="0.15" textLength="44.9" lengthAdjust="spacingAndGlyphs" clip-path="url(#cbot)">98.000</text>
<line x1="900" y1="481.2" x2="903.5" y2="481.2" stroke="#777" stroke-width="1"/>
<text x="904.2" y="486.2" font-size="14" fill="#3a3a3a" stroke="#3a3a3a" stroke-width="0.15" textLength="44.9" lengthAdjust="spacingAndGlyphs" clip-path="url(#cbot)">96.000</text>
<line x1="900" y1="503.7" x2="903.5" y2="503.7" stroke="#777" stroke-width="1"/>
<text x="904.2" y="508.7" font-size="14" fill="#3a3a3a" stroke="#3a3a3a" stroke-width="0.15" textLength="44.9" lengthAdjust="spacingAndGlyphs" clip-path="url(#cbot)">94.000</text>
<line x1="4.6" y1="429.7" x2="4.6" y2="437.0" stroke="#ff0000" stroke-width="0.8"/>
<rect x="3.60" y="431.1" width="2.0" height="4.5" fill="#ff0000"/>
<line x1="7.5" y1="429.7" x2="7.5" y2="436.4" stroke="#2e8f2e" stroke-width="0.8"/>
<rect x="6.45" y="431.1" width="2.1" height="3.9" fill="#bfe0bf" stroke="#4c9f4c" stroke-width="0.55"/>
<line x1="9.6" y1="424.3" x2="9.6" y2="431.5" stroke="#2e8f2e" stroke-width="0.8"/>
<rect x="8.55" y="425.7" width="2.1" height="4.4" fill="#bfe0bf" stroke="#4c9f4c" stroke-width="0.55"/>
<line x1="12.0" y1="420.7" x2="12.0" y2="425.5" stroke="#2e8f2e" stroke-width="0.8"/>
<rect x="10.95" y="421.8" width="2.1" height="2.7" fill="#bfe0bf" stroke="#4c9f4c" stroke-width="0.55"/>
<line x1="15.0" y1="415.9" x2="15.0" y2="421.3" stroke="#2e8f2e" stroke-width="0.8"/>
<rect x="13.95" y="417.1" width="2.1" height="3.0" fill="#bfe0bf" stroke="#4c9f4c" stroke-width="0.55"/>
<line x1="17.4" y1="411.1" x2="17.4" y2="418.3" stroke="#2e8f2e" stroke-width="0.8"/>
<rect x="16.35" y="412.5" width="2.1" height="4.4" fill="#bfe0bf" stroke="#4c9f4c" stroke-width="0.55"/>
<line x1="19.9" y1="410.5" x2="19.9" y2="412.3" stroke="#2e8f2e" stroke-width="0.8"/>
<rect x="18.85" y="410.9" width="2.1" height="1.0" fill="#bfe0bf" stroke="#4c9f4c" stroke-width="0.55"/>
<line x1="22.6" y1="411.1" x2="22.6" y2="413.5" stroke="#ff0000" stroke-width="0.8"/>
<rect x="21.60" y="411.6" width="2.0" height="1.3" fill="#ff0000"/>
<line x1="25.3" y1="406.9" x2="25.3" y2="411.7" stroke="#2e8f2e" stroke-width="0.8"/>
<rect x="24.25" y="408.0" width="2.1" height="2.7" fill="#bfe0bf" stroke="#4c9f4c" stroke-width="0.55"/>
<line x1="27.7" y1="403.9" x2="27.7" y2="408.1" stroke="#ff0000" stroke-width="0.8"/>
<rect x="26.70" y="404.8" width="2.0" height="2.4" fill="#ff0000"/>
<line x1="30.3" y1="404.5" x2="30.3" y2="406.0" stroke="#2e8f2e" stroke-width="0.8"/>
<rect x="29.25" y="404.8" width="2.1" height="1.0" fill="#bfe0bf" stroke="#4c9f4c" stroke-width="0.55"/>
<line x1="32.7" y1="402.7" x2="32.7" y2="406.9" stroke="#2e8f2e" stroke-width="0.8"/>
<rect x="31.65" y="403.6" width="2.1" height="2.4" fill="#bfe0bf" stroke="#4c9f4c" stroke-width="0.55"/>
<line x1="35.1" y1="402.1" x2="35.1" y2="405.7" stroke="#2e8f2e" stroke-width="0.8"/>
<rect x="34.05" y="402.9" width="2.1" height="2.0" fill="#bfe0bf" stroke="#4c9f4c" stroke-width="0.55"/>
<line x1="37.9" y1="399.7" x2="37.9" y2="403.3" stroke="#2e8f2e" stroke-width="0.8"/>
<rect x="36.85" y="400.5" width="2.1" height="2.0" fill="#bfe0bf" stroke="#4c9f4c" stroke-width="0.55"/>
<line x1="40.3" y1="396.7" x2="40.3" y2="400.3" stroke="#2e8f2e" stroke-width="0.8"/>
<rect x="39.25" y="397.5" width="2.1" height="2.0" fill="#bfe0bf" stroke="#4c9f4c" stroke-width="0.55"/>
<line x1="42.7" y1="397.3" x2="42.7" y2="400.3" stroke="#ff0000" stroke-width="0.8"/>
<rect x="41.70" y="398.0" width="2.0" height="1.7" fill="#ff0000"/>
<line x1="45.5" y1="394.9" x2="45.5" y2="400.9" stroke="#2e8f2e" stroke-width="0.8"/>
<rect x="44.45" y="396.2" width="2.1" height="3.4" fill="#bfe0bf" stroke="#4c9f4c" stroke-width="0.55"/>
<line x1="48.1" y1="393.0" x2="48.1" y2="396.0" stroke="#2e8f2e" stroke-width="0.8"/>
<rect x="47.05" y="393.7" width="2.1" height="1.7" fill="#bfe0bf" stroke="#4c9f4c" stroke-width="0.55"/>
<line x1="50.3" y1="389.4" x2="50.3" y2="396.0" stroke="#2e8f2e" stroke-width="0.8"/>
<rect x="49.25" y="390.8" width="2.1" height="3.8" fill="#bfe0bf" stroke="#4c9f4c" stroke-width="0.55"/>
<line x1="52.9" y1="390.6" x2="52.9" y2="394.3" stroke="#ff0000" stroke-width="0.8"/>
<rect x="51.90" y="391.4" width="2.0" height="2.1" fill="#ff0000"/>
<line x1="56.0" y1="390.6" x2="56.0" y2="394.3" stroke="#2e8f2e" stroke-width="0.8"/>
<rect x="54.95" y="391.4" width="2.1" height="2.1" fill="#bfe0bf" stroke="#4c9f4c" stroke-width="0.55"/>
<line x1="58.7" y1="388.2" x2="58.7" y2="390.6" stroke="#ff0000" stroke-width="0.8"/>
<rect x="57.70" y="388.7" width="2.0" height="1.3" fill="#ff0000"/>
<line x1="60.8" y1="388.8" x2="60.8" y2="391.2" stroke="#ff0000" stroke-width="0.8"/>
<rect x="59.80" y="389.3" width="2.0" height="1.3" fill="#ff0000"/>
<line x1="63.2" y1="390.6" x2="63.2" y2="393.6" stroke="#ff0000" stroke-width="0.8"/>
<rect x="62.20" y="391.3" width="2.0" height="1.7" fill="#ff0000"/>
<line x1="66.0" y1="392.4" x2="66.0" y2="395.5" stroke="#ff0000" stroke-width="0.8"/>
<rect x="65.00" y="393.1" width="2.0" height="1.7" fill="#ff0000"/>
<line x1="68.4" y1="390.0" x2="68.4" y2="398.5" stroke="#2e8f2e" stroke-width="0.8"/>
<rect x="67.35" y="391.4" width="2.1" height="5.7" fill="#bfe0bf" stroke="#4c9f4c" stroke-width="0.55"/>
<line x1="71.0" y1="394.2" x2="71.0" y2="396.0" stroke="#ff0000" stroke-width="0.8"/>
<rect x="70.00" y="394.6" width="2.0" height="1.0" fill="#ff0000"/>
<line x1="73.4" y1="394.9" x2="73.4" y2="400.3" stroke="#ff0000" stroke-width="0.8"/>
<rect x="72.40" y="396.1" width="2.0" height="3.0" fill="#ff0000"/>
<line x1="75.8" y1="378.6" x2="75.8" y2="393.0" stroke="#2e8f2e" stroke-width="0.8"/>
<rect x="74.75" y="380.0" width="2.1" height="11.6" fill="#bfe0bf" stroke="#4c9f4c" stroke-width="0.55"/>
<line x1="78.3" y1="380.7" x2="78.3" y2="390.9" stroke="#ff0000" stroke-width="0.8"/>
<rect x="77.30" y="382.1" width="2.0" height="7.4" fill="#ff0000"/>
<line x1="81.3" y1="382.7" x2="81.3" y2="390.4" stroke="#2e8f2e" stroke-width="0.8"/>
<rect x="80.25" y="384.1" width="2.1" height="4.9" fill="#bfe0bf" stroke="#4c9f4c" stroke-width="0.55"/>
<line x1="83.6" y1="376.6" x2="83.6" y2="383.7" stroke="#2e8f2e" stroke-width="0.8"/>
<rect x="82.55" y="378.0" width="2.1" height="4.3" fill="#bfe0bf" stroke="#4c9f4c" stroke-width="0.55"/>
<line x1="86.0" y1="371.0" x2="86.0" y2="378.6" stroke="#2e8f2e" stroke-width="0.8"/>
<rect x="84.95" y="372.4" width="2.1" height="4.8" fill="#bfe0bf" stroke="#4c9f4c" stroke-width="0.55"/>
<line x1="88.7" y1="366.9" x2="88.7" y2="375.1" stroke="#2e8f2e" stroke-width="0.8"/>
<rect x="87.65" y="368.3" width="2.1" height="5.4" fill="#bfe0bf" stroke="#4c9f4c" stroke-width="0.55"/>
<line x1="91.0" y1="362.3" x2="91.0" y2="367.9" stroke="#2e8f2e" stroke-width="0.8"/>
<rect x="89.95" y="363.5" width="2.1" height="3.1" fill="#bfe0bf" stroke="#4c9f4c" stroke-width="0.55"/>
<line x1="93.5" y1="363.3" x2="93.5" y2="369.5" stroke="#ff0000" stroke-width="0.8"/>
<rect x="92.50" y="364.7" width="2.0" height="3.5" fill="#ff0000"/>
<line x1="95.8" y1="364.9" x2="95.8" y2="370.5" stroke="#ff0000" stroke-width="0.8"/>
<rect x="94.80" y="366.1" width="2.0" height="3.1" fill="#ff0000"/>
<line x1="98.6" y1="368.4" x2="98.6" y2="371.0" stroke="#2e8f2e" stroke-width="0.8"/>
<rect x="97.55" y="369.0" width="2.1" height="1.5" fill="#bfe0bf" stroke="#4c9f4c" stroke-width="0.55"/>
<line x1="101.2" y1="363.9" x2="101.2" y2="371.5" stroke="#2e8f2e" stroke-width="0.8"/>
<rect x="100.15" y="365.3" width="2.1" height="4.8" fill="#bfe0bf" stroke="#4c9f4c" stroke-width="0.55"/>
<line x1="103.7" y1="360.3" x2="103.7" y2="366.9" stroke="#2e8f2e" stroke-width="0.8"/>
<rect x="102.65" y="361.7" width="2.1" height="3.8" fill="#bfe0bf" stroke="#4c9f4c" stroke-width="0.55"/>
<line x1="106.5" y1="350.6" x2="106.5" y2="361.8" stroke="#2e8f2e" stroke-width="0.8"/>
<rect x="105.45" y="352.0" width="2.1" height="8.4" fill="#bfe0bf" stroke="#4c9f4c" stroke-width="0.55"/>
<line x1="108.6" y1="360.3" x2="108.6" y2="365.4" stroke="#ff0000" stroke-width="0.8"/>
<rect x="107.60" y="361.4" width="2.0" height="2.9" fill="#ff0000"/>
<line x1="111.1" y1="357.2" x2="111.1" y2="366.4" stroke="#ff0000" stroke-width="0.8"/>
<rect x="110.10" y="358.6" width="2.0" height="6.4" fill="#ff0000"/>
<line x1="113.9" y1="363.3" x2="113.9" y2="373.5" stroke="#ff0000" stroke-width="0.8"/>
<rect x="112.90" y="364.7" width="2.0" height="7.4" fill="#ff0000"/>
<line x1="116.5" y1="368.0" x2="116.5" y2="370.5" stroke="#2e8f2e" stroke-width="0.8"/>
<rect x="115.45" y="368.6" width="2.1" height="1.4" fill="#bfe0bf" stroke="#4c9f4c" stroke-width="0.55"/>
<line x1="119.0" y1="371.0" x2="119.0" y2="375.6" stroke="#ff0000" stroke-width="0.8"/>
<rect x="118.00" y="372.0" width="2.0" height="2.6" fill="#ff0000"/>
<line x1="121.8" y1="364.4" x2="121.8" y2="374.0" stroke="#2e8f2e" stroke-width="0.8"/>
<rect x="120.75" y="365.8" width="2.1" height="6.8" fill="#bfe0bf" stroke="#4c9f4c" stroke-width="0.55"/>
<line x1="124.4" y1="365.4" x2="124.4" y2="371.5" stroke="#ff0000" stroke-width="0.8"/>
<rect x="123.40" y="366.7" width="2.0" height="3.4" fill="#ff0000"/>
<line x1="126.7" y1="364.9" x2="126.7" y2="368.4" stroke="#2e8f2e" stroke-width="0.8"/>
<rect x="125.65" y="365.7" width="2.1" height="2.0" fill="#bfe0bf" stroke="#4c9f4c" stroke-width="0.55"/>
<line x1="129.0" y1="368.4" x2="129.0" y2="374.6" stroke="#ff0000" stroke-width="0.8"/>
<rect x="128.00" y="369.8" width="2.0" height="3.5" fill="#ff0000"/>
<line x1="131.5" y1="370.0" x2="131.5" y2="377.6" stroke="#2e8f2e" stroke-width="0.8"/>
<rect x="130.45" y="371.4" width="2.1" height="4.8" fill="#bfe0bf" stroke="#4c9f4c" stroke-width="0.55"/>
<line x1="134.0" y1="370.0" x2="134.0" y2="373.0" stroke="#2e8f2e" stroke-width="0.8"/>
<rect x="132.95" y="370.7" width="2.1" height="1.7" fill="#bfe0bf" stroke="#4c9f4c" stroke-width="0.55"/>
<line x1="136.6" y1="365.9" x2="136.6" y2="371.0" stroke="#2e8f2e" stroke-width="0.8"/>
<rect x="135.55" y="367.0" width="2.1" height="2.9" fill="#bfe0bf" stroke="#4c9f4c" stroke-width="0.55"/>
<line x1="139.2" y1="363.9" x2="139.2" y2="368.4" stroke="#2e8f2e" stroke-width="0.8"/>
<rect x="138.15" y="364.9" width="2.1" height="2.5" fill="#bfe0bf" stroke="#4c9f4c" stroke-width="0.55"/>
<line x1="142.0" y1="364.4" x2="142.0" y2="370.5" stroke="#2e8f2e" stroke-width="0.8"/>
<rect x="140.95" y="365.7" width="2.1" height="3.4" fill="#bfe0bf" stroke="#4c9f4c" stroke-width="0.55"/>
<line x1="144.8" y1="363.3" x2="144.8" y2="366.9" stroke="#ff0000" stroke-width="0.8"/>
<rect x="143.80" y="364.1" width="2.0" height="2.0" fill="#ff0000"/>
<line x1="147.3" y1="363.8" x2="147.3" y2="366.4" stroke="#ff0000" stroke-width="0.8"/>
<rect x="146.30" y="364.4" width="2.0" height="1.5" fill="#ff0000"/>
<line x1="149.9" y1="364.9" x2="149.9" y2="367.4" stroke="#2e8f2e" stroke-width="0.8"/>
<rect x="148.85" y="365.4" width="2.1" height="1.4" fill="#bfe0bf" stroke="#4c9f4c" stroke-width="0.55"/>
<line x1="152.2" y1="351.6" x2="152.2" y2="365.9" stroke="#2e8f2e" stroke-width="0.8"/>
<rect x="151.15" y="353.0" width="2.1" height="11.5" fill="#bfe0bf" stroke="#4c9f4c" stroke-width="0.55"/>
<line x1="155.0" y1="349.6" x2="155.0" y2="356.2" stroke="#2e8f2e" stroke-width="0.8"/>
<rect x="153.95" y="351.0" width="2.1" height="3.8" fill="#bfe0bf" stroke="#4c9f4c" stroke-width="0.55"/>
<line x1="157.3" y1="348.6" x2="157.3" y2="357.9" stroke="#ff0000" stroke-width="0.8"/>
<rect x="156.30" y="350.0" width="2.0" height="6.5" fill="#ff0000"/>
<line x1="159.6" y1="350.9" x2="159.6" y2="356.5" stroke="#2e8f2e" stroke-width="0.8"/>
<rect x="158.55" y="352.1" width="2.1" height="3.1" fill="#bfe0bf" stroke="#4c9f4c" stroke-width="0.55"/>
<line x1="162.2" y1="351.4" x2="162.2" y2="352.8" stroke="#2e8f2e" stroke-width="0.8"/>
<rect x="161.15" y="351.6" width="2.1" height="1.0" fill="#bfe0bf" stroke="#4c9f4c" stroke-width="0.55"/>
<line x1="164.7" y1="350.9" x2="164.7" y2="352.8" stroke="#ff0000" stroke-width="0.8"/>
<rect x="163.70" y="351.3" width="2.0" height="1.1" fill="#ff0000"/>
<line x1="167.0" y1="351.9" x2="167.0" y2="354.2" stroke="#ff0000" stroke-width="0.8"/>
<rect x="166.00" y="352.4" width="2.0" height="1.3" fill="#ff0000"/>
<line x1="169.6" y1="349.5" x2="169.6" y2="355.6" stroke="#2e8f2e" stroke-width="0.8"/>
<rect x="168.55" y="350.8" width="2.1" height="3.4" fill="#bfe0bf" stroke="#4c9f4c" stroke-width="0.55"/>
<line x1="172.1" y1="347.2" x2="172.1" y2="354.2" stroke="#2e8f2e" stroke-width="0.8"/>
<rect x="171.05" y="348.6" width="2.1" height="4.2" fill="#bfe0bf" stroke="#4c9f4c" stroke-width="0.55"/>
<line x1="174.4" y1="337.0" x2="174.4" y2="350.5" stroke="#2e8f2e" stroke-width="0.8"/>
<rect x="173.35" y="338.4" width="2.1" height="10.7" fill="#bfe0bf" stroke="#4c9f4c" stroke-width="0.55"/>
<line x1="177.2" y1="341.2" x2="177.2" y2="343.5" stroke="#ff0000" stroke-width="0.8"/>
<rect x="176.20" y="341.7" width="2.0" height="1.3" fill="#ff0000"/>
<line x1="180.0" y1="342.6" x2="180.0" y2="355.6" stroke="#ff0000" stroke-width="0.8"/>
<rect x="179.00" y="344.0" width="2.0" height="10.2" fill="#ff0000"/>
<line x1="182.6" y1="345.8" x2="182.6" y2="353.2" stroke="#2e8f2e" stroke-width="0.8"/>
<rect x="181.55" y="347.2" width="2.1" height="4.6" fill="#bfe0bf" stroke="#4c9f4c" stroke-width="0.55"/>
<line x1="185.1" y1="339.4" x2="185.1" y2="346.8" stroke="#2e8f2e" stroke-width="0.8"/>
<rect x="184.05" y="340.8" width="2.1" height="4.6" fill="#bfe0bf" stroke="#4c9f4c" stroke-width="0.55"/>
<line x1="187.6" y1="340.7" x2="187.6" y2="343.1" stroke="#2e8f2e" stroke-width="0.8"/>
<rect x="186.55" y="341.2" width="2.1" height="1.3" fill="#bfe0bf" stroke="#4c9f4c" stroke-width="0.55"/>
<line x1="190.0" y1="332.9" x2="190.0" y2="342.1" stroke="#2e8f2e" stroke-width="0.8"/>
<rect x="188.95" y="334.3" width="2.1" height="6.4" fill="#bfe0bf" stroke="#4c9f4c" stroke-width="0.55"/>
<line x1="192.5" y1="331.0" x2="192.5" y2="336.1" stroke="#ff0000" stroke-width="0.8"/>
<rect x="191.50" y="332.1" width="2.0" height="2.9" fill="#ff0000"/>
<line x1="195.0" y1="336.1" x2="195.0" y2="340.7" stroke="#ff0000" stroke-width="0.8"/>
<rect x="194.00" y="337.1" width="2.0" height="2.6" fill="#ff0000"/>
<line x1="197.8" y1="339.4" x2="197.8" y2="346.8" stroke="#ff0000" stroke-width="0.8"/>
<rect x="196.80" y="340.8" width="2.0" height="4.6" fill="#ff0000"/>
<line x1="200.4" y1="340.7" x2="200.4" y2="344.0" stroke="#ff0000" stroke-width="0.8"/>
<rect x="199.40" y="341.4" width="2.0" height="1.8" fill="#ff0000"/>
<line x1="203.0" y1="338.4" x2="203.0" y2="343.5" stroke="#2e8f2e" stroke-width="0.8"/>
<rect x="201.95" y="339.5" width="2.1" height="2.9" fill="#bfe0bf" stroke="#4c9f4c" stroke-width="0.55"/>
<line x1="205.5" y1="338.0" x2="205.5" y2="353.7" stroke="#ff0000" stroke-width="0.8"/>
<rect x="204.50" y="339.4" width="2.0" height="12.9" fill="#ff0000"/>
<line x1="208.0" y1="344.4" x2="208.0" y2="353.7" stroke="#ff0000" stroke-width="0.8"/>
<rect x="207.00" y="345.8" width="2.0" height="6.5" fill="#ff0000"/>
<line x1="210.6" y1="350.0" x2="210.6" y2="355.6" stroke="#2e8f2e" stroke-width="0.8"/>
<rect x="209.55" y="351.2" width="2.1" height="3.1" fill="#bfe0bf" stroke="#4c9f4c" stroke-width="0.55"/>
<line x1="213.1" y1="347.7" x2="213.1" y2="352.8" stroke="#ff0000" stroke-width="0.8"/>
<rect x="212.10" y="348.8" width="2.0" height="2.9" fill="#ff0000"/>
<line x1="215.6" y1="351.4" x2="215.6" y2="361.1" stroke="#ff0000" stroke-width="0.8"/>
<rect x="214.60" y="352.8" width="2.0" height="6.9" fill="#ff0000"/>
<line x1="218.0" y1="355.1" x2="218.0" y2="363.4" stroke="#ff0000" stroke-width="0.8"/>
<rect x="217.00" y="356.5" width="2.0" height="5.5" fill="#ff0000"/>
<line x1="220.6" y1="353.2" x2="220.6" y2="356.0" stroke="#2e8f2e" stroke-width="0.8"/>
<rect x="219.55" y="353.8" width="2.1" height="1.6" fill="#bfe0bf" stroke="#4c9f4c" stroke-width="0.55"/>
<line x1="223.0" y1="350.5" x2="223.0" y2="355.1" stroke="#2e8f2e" stroke-width="0.8"/>
<rect x="221.95" y="351.5" width="2.1" height="2.6" fill="#bfe0bf" stroke="#4c9f4c" stroke-width="0.55"/>
<line x1="225.4" y1="350.0" x2="225.4" y2="357.4" stroke="#2e8f2e" stroke-width="0.8"/>
<rect x="224.35" y="351.4" width="2.1" height="4.6" fill="#bfe0bf" stroke="#4c9f4c" stroke-width="0.55"/>
<line x1="228.1" y1="347.7" x2="228.1" y2="353.7" stroke="#2e8f2e" stroke-width="0.8"/>
<rect x="227.05" y="349.0" width="2.1" height="3.4" fill="#bfe0bf" stroke="#4c9f4c" stroke-width="0.55"/>
<line x1="230.9" y1="333.8" x2="230.9" y2="350.9" stroke="#ff0000" stroke-width="0.8"/>
<rect x="229.90" y="335.2" width="2.0" height="14.3" fill="#ff0000"/>
<line x1="233.5" y1="342.6" x2="233.5" y2="353.7" stroke="#ff0000" stroke-width="0.8"/>
<rect x="232.50" y="344.0" width="2.0" height="8.3" fill="#ff0000"/>
<line x1="235.7" y1="353.1" x2="235.7" y2="359.7" stroke="#ff0000" stroke-width="0.8"/>
<rect x="234.70" y="354.5" width="2.0" height="3.8" fill="#ff0000"/>
<line x1="238.4" y1="353.1" x2="238.4" y2="357.3" stroke="#2e8f2e" stroke-width="0.8"/>
<rect x="237.35" y="354.0" width="2.1" height="2.4" fill="#bfe0bf" stroke="#4c9f4c" stroke-width="0.55"/>
<line x1="241.2" y1="350.1" x2="241.2" y2="359.1" stroke="#2e8f2e" stroke-width="0.8"/>
<rect x="240.15" y="351.5" width="2.1" height="6.2" fill="#bfe0bf" stroke="#4c9f4c" stroke-width="0.55"/>
<line x1="243.2" y1="347.7" x2="243.2" y2="351.9" stroke="#2e8f2e" stroke-width="0.8"/>
<rect x="242.15" y="348.6" width="2.1" height="2.4" fill="#bfe0bf" stroke="#4c9f4c" stroke-width="0.55"/>
<line x1="246.0" y1="347.7" x2="246.0" y2="354.3" stroke="#ff0000" stroke-width="0.8"/>
<rect x="245.00" y="349.1" width="2.0" height="3.8" fill="#ff0000"/>
<line x1="248.4" y1="347.0" x2="248.4" y2="356.1" stroke="#2e8f2e" stroke-width="0.8"/>
<rect x="247.35" y="348.4" width="2.1" height="6.3" fill="#bfe0bf" stroke="#4c9f4c" stroke-width="0.55"/>
<line x1="251.1" y1="352.5" x2="251.1" y2="362.1" stroke="#ff0000" stroke-width="0.8"/>
<rect x="250.10" y="353.9" width="2.0" height="6.8" fill="#ff0000"/>
<line x1="253.7" y1="361.5" x2="253.7" y2="366.9" stroke="#ff0000" stroke-width="0.8"/>
<rect x="252.70" y="362.7" width="2.0" height="3.0" fill="#ff0000"/>
<line x1="256.1" y1="363.3" x2="256.1" y2="365.7" stroke="#ff0000" stroke-width="0.8"/>
<rect x="255.10" y="363.8" width="2.0" height="1.3" fill="#ff0000"/>
<line x1="258.5" y1="362.1" x2="258.5" y2="365.1" stroke="#2e8f2e" stroke-width="0.8"/>
<rect x="257.45" y="362.8" width="2.1" height="1.7" fill="#bfe0bf" stroke="#4c9f4c" stroke-width="0.55"/>
<line x1="261.3" y1="359.1" x2="261.3" y2="363.9" stroke="#2e8f2e" stroke-width="0.8"/>
<rect x="260.25" y="360.2" width="2.1" height="2.7" fill="#bfe0bf" stroke="#4c9f4c" stroke-width="0.55"/>
<line x1="264.1" y1="360.9" x2="264.1" y2="369.3" stroke="#ff0000" stroke-width="0.8"/>
<rect x="263.10" y="362.3" width="2.0" height="5.6" fill="#ff0000"/>
<line x1="266.5" y1="365.7" x2="266.5" y2="368.1" stroke="#2e8f2e" stroke-width="0.8"/>
<rect x="265.45" y="366.2" width="2.1" height="1.3" fill="#bfe0bf" stroke="#4c9f4c" stroke-width="0.55"/>
<line x1="268.9" y1="365.1" x2="268.9" y2="371.1" stroke="#2e8f2e" stroke-width="0.8"/>
<rect x="267.85" y="366.4" width="2.1" height="3.4" fill="#bfe0bf" stroke="#4c9f4c" stroke-width="0.55"/>
<line x1="271.6" y1="363.9" x2="271.6" y2="370.5" stroke="#ff0000" stroke-width="0.8"/>
<rect x="270.60" y="365.3" width="2.0" height="3.8" fill="#ff0000"/>
<line x1="274.2" y1="365.7" x2="274.2" y2="371.1" stroke="#2e8f2e" stroke-width="0.8"/>
<rect x="273.15" y="366.9" width="2.1" height="3.0" fill="#bfe0bf" stroke="#4c9f4c" stroke-width="0.55"/>
<line x1="276.6" y1="358.5" x2="276.6" y2="367.5" stroke="#2e8f2e" stroke-width="0.8"/>
<rect x="275.55" y="359.9" width="2.1" height="6.2" fill="#bfe0bf" stroke="#4c9f4c" stroke-width="0.55"/>
<line x1="279.4" y1="355.5" x2="279.4" y2="360.3" stroke="#2e8f2e" stroke-width="0.8"/>
<rect x="278.35" y="356.6" width="2.1" height="2.7" fill="#bfe0bf" stroke="#4c9f4c" stroke-width="0.55"/>
<line x1="281.8" y1="357.9" x2="281.8" y2="367.5" stroke="#ff0000" stroke-width="0.8"/>
<rect x="280.80" y="359.3" width="2.0" height="6.8" fill="#ff0000"/>
<line x1="284.2" y1="366.3" x2="284.2" y2="377.2" stroke="#ff0000" stroke-width="0.8"/>
<rect x="283.20" y="367.7" width="2.0" height="8.1" fill="#ff0000"/>
<line x1="286.6" y1="376.6" x2="286.6" y2="390.4" stroke="#ff0000" stroke-width="0.8"/>
<rect x="285.60" y="378.0" width="2.0" height="11.0" fill="#ff0000"/>
<line x1="289.1" y1="389.3" x2="289.1" y2="395.3" stroke="#ff0000" stroke-width="0.8"/>
<rect x="288.10" y="390.6" width="2.0" height="3.4" fill="#ff0000"/>
<line x1="291.5" y1="391.1" x2="291.5" y2="399.0" stroke="#ff0000" stroke-width="0.8"/>
<rect x="290.50" y="392.5" width="2.0" height="5.1" fill="#ff0000"/>
<line x1="294.0" y1="393.0" x2="294.0" y2="397.6" stroke="#2e8f2e" stroke-width="0.8"/>
<rect x="292.95" y="394.0" width="2.1" height="2.6" fill="#bfe0bf" stroke="#4c9f4c" stroke-width="0.55"/>
<line x1="296.8" y1="393.9" x2="296.8" y2="401.3" stroke="#ff0000" stroke-width="0.8"/>
<rect x="295.80" y="395.3" width="2.0" height="4.6" fill="#ff0000"/>
<line x1="299.3" y1="395.7" x2="299.3" y2="400.8" stroke="#2e8f2e" stroke-width="0.8"/>
<rect x="298.25" y="396.8" width="2.1" height="2.9" fill="#bfe0bf" stroke="#4c9f4c" stroke-width="0.55"/>
<line x1="301.7" y1="396.2" x2="301.7" y2="401.8" stroke="#ff0000" stroke-width="0.8"/>
<rect x="300.70" y="397.4" width="2.0" height="3.1" fill="#ff0000"/>
<line x1="304.5" y1="395.3" x2="304.5" y2="400.8" stroke="#ff0000" stroke-width="0.8"/>
<rect x="303.50" y="396.5" width="2.0" height="3.1" fill="#ff0000"/>
<line x1="307.0" y1="398.5" x2="307.0" y2="403.6" stroke="#ff0000" stroke-width="0.8"/>
<rect x="306.00" y="399.6" width="2.0" height="2.9" fill="#ff0000"/>
<line x1="309.5" y1="400.8" x2="309.5" y2="405.0" stroke="#ff0000" stroke-width="0.8"/>
<rect x="308.50" y="401.7" width="2.0" height="2.4" fill="#ff0000"/>
<line x1="311.9" y1="398.1" x2="311.9" y2="404.5" stroke="#2e8f2e" stroke-width="0.8"/>
<rect x="310.85" y="399.5" width="2.1" height="3.6" fill="#bfe0bf" stroke="#4c9f4c" stroke-width="0.55"/>
<line x1="314.9" y1="395.3" x2="314.9" y2="403.6" stroke="#2e8f2e" stroke-width="0.8"/>
<rect x="313.85" y="396.7" width="2.1" height="5.5" fill="#bfe0bf" stroke="#4c9f4c" stroke-width="0.55"/>
<line x1="317.4" y1="393.9" x2="317.4" y2="399.9" stroke="#2e8f2e" stroke-width="0.8"/>
<rect x="316.35" y="395.2" width="2.1" height="3.4" fill="#bfe0bf" stroke="#4c9f4c" stroke-width="0.55"/>
<line x1="319.7" y1="391.6" x2="319.7" y2="398.1" stroke="#2e8f2e" stroke-width="0.8"/>
<rect x="318.65" y="393.0" width="2.1" height="3.7" fill="#bfe0bf" stroke="#4c9f4c" stroke-width="0.55"/>
<line x1="322.1" y1="391.6" x2="322.1" y2="396.7" stroke="#ff0000" stroke-width="0.8"/>
<rect x="321.10" y="392.7" width="2.0" height="2.9" fill="#ff0000"/>
<line x1="324.9" y1="390.2" x2="324.9" y2="394.8" stroke="#2e8f2e" stroke-width="0.8"/>
<rect x="323.85" y="391.2" width="2.1" height="2.6" fill="#bfe0bf" stroke="#4c9f4c" stroke-width="0.55"/>
<line x1="327.1" y1="389.3" x2="327.1" y2="394.4" stroke="#ff0000" stroke-width="0.8"/>
<rect x="326.10" y="390.4" width="2.0" height="2.9" fill="#ff0000"/>
<line x1="329.7" y1="392.0" x2="329.7" y2="396.7" stroke="#ff0000" stroke-width="0.8"/>
<rect x="328.70" y="393.0" width="2.0" height="2.6" fill="#ff0000"/>
<line x1="332.3" y1="392.5" x2="332.3" y2="398.5" stroke="#2e8f2e" stroke-width="0.8"/>
<rect x="331.25" y="393.8" width="2.1" height="3.4" fill="#bfe0bf" stroke="#4c9f4c" stroke-width="0.55"/>
<line x1="334.8" y1="393.0" x2="334.8" y2="395.3" stroke="#2e8f2e" stroke-width="0.8"/>
<rect x="333.75" y="393.5" width="2.1" height="1.3" fill="#bfe0bf" stroke="#4c9f4c" stroke-width="0.55"/>
<line x1="337.5" y1="393.4" x2="337.5" y2="402.2" stroke="#ff0000" stroke-width="0.8"/>
<rect x="336.50" y="394.8" width="2.0" height="6.0" fill="#ff0000"/>
<line x1="340.0" y1="403.1" x2="340.0" y2="425.4" stroke="#ff0000" stroke-width="0.8"/>
<rect x="339.00" y="404.5" width="2.0" height="19.5" fill="#ff0000"/>
<line x1="342.8" y1="403.6" x2="342.8" y2="421.7" stroke="#2e8f2e" stroke-width="0.8"/>
<rect x="341.75" y="405.0" width="2.1" height="15.3" fill="#bfe0bf" stroke="#4c9f4c" stroke-width="0.55"/>
<line x1="345.2" y1="400.4" x2="345.2" y2="405.3" stroke="#2e8f2e" stroke-width="0.8"/>
<rect x="344.20" y="402.7" width="2.0" height="2.1" fill="#2e8f2e"/>
<line x1="347.5" y1="401.5" x2="347.5" y2="406.7" stroke="#2e8f2e" stroke-width="0.8"/>
<rect x="346.50" y="402.9" width="2.0" height="1.9" fill="#2e8f2e"/>
<line x1="350.1" y1="405.0" x2="350.1" y2="409.7" stroke="#ff0000" stroke-width="0.8"/>
<rect x="349.10" y="405.5" width="2.0" height="3.8" fill="#ff0000"/>
<line x1="352.6" y1="407.0" x2="352.6" y2="429.5" stroke="#ff0000" stroke-width="0.8"/>
<rect x="351.60" y="409.0" width="2.0" height="20.0" fill="#ff0000"/>
<line x1="355.2" y1="432.0" x2="355.2" y2="449.0" stroke="#ff0000" stroke-width="0.8"/>
<rect x="354.20" y="432.6" width="2.0" height="8.4" fill="#ff0000"/>
<line x1="357.7" y1="437.0" x2="357.7" y2="446.0" stroke="#ff0000" stroke-width="0.8"/>
<rect x="356.70" y="438.0" width="2.0" height="6.6" fill="#ff0000"/>
<line x1="360.3" y1="436.0" x2="360.3" y2="443.0" stroke="#2e8f2e" stroke-width="0.8"/>
<rect x="359.25" y="436.8" width="2.1" height="6.0" fill="#bfe0bf" stroke="#4c9f4c" stroke-width="0.55"/>
<line x1="362.9" y1="437.5" x2="362.9" y2="447.5" stroke="#ff0000" stroke-width="0.8"/>
<rect x="361.90" y="438.0" width="2.0" height="9.4" fill="#ff0000"/>
<line x1="365.4" y1="442.5" x2="365.4" y2="448.0" stroke="#2e8f2e" stroke-width="0.8"/>
<rect x="364.35" y="442.8" width="2.1" height="4.6" fill="#bfe0bf" stroke="#4c9f4c" stroke-width="0.55"/>
<line x1="367.9" y1="446.0" x2="367.9" y2="462.0" stroke="#ff0000" stroke-width="0.8"/>
<rect x="366.90" y="447.0" width="2.0" height="10.6" fill="#ff0000"/>
<line x1="371.0" y1="450.0" x2="371.0" y2="459.0" stroke="#2e8f2e" stroke-width="0.8"/>
<rect x="369.95" y="450.2" width="2.1" height="7.4" fill="#bfe0bf" stroke="#4c9f4c" stroke-width="0.55"/>
<line x1="373.3" y1="439.3" x2="373.3" y2="446.0" stroke="#2e8f2e" stroke-width="0.8"/>
<rect x="372.25" y="439.5" width="2.1" height="6.1" fill="#bfe0bf" stroke="#4c9f4c" stroke-width="0.55"/>
<line x1="375.3" y1="440.0" x2="375.3" y2="447.5" stroke="#ff0000" stroke-width="0.8"/>
<rect x="374.30" y="440.5" width="2.0" height="6.9" fill="#ff0000"/>
<line x1="377.9" y1="443.5" x2="377.9" y2="446.0" stroke="#2e8f2e" stroke-width="0.8"/>
<rect x="376.85" y="443.7" width="2.1" height="1.9" fill="#bfe0bf" stroke="#4c9f4c" stroke-width="0.55"/>
<line x1="380.7" y1="443.5" x2="380.7" y2="451.2" stroke="#ff0000" stroke-width="0.8"/>
<rect x="379.70" y="443.7" width="2.0" height="7.4" fill="#ff0000"/>
<line x1="383.5" y1="446.3" x2="383.5" y2="450.5" stroke="#2e8f2e" stroke-width="0.8"/>
<rect x="382.45" y="446.5" width="2.1" height="3.7" fill="#bfe0bf" stroke="#4c9f4c" stroke-width="0.55"/>
<line x1="385.8" y1="442.0" x2="385.8" y2="448.5" stroke="#2e8f2e" stroke-width="0.8"/>
<rect x="384.75" y="442.3" width="2.1" height="6.0" fill="#bfe0bf" stroke="#4c9f4c" stroke-width="0.55"/>
<line x1="388.3" y1="436.0" x2="388.3" y2="443.0" stroke="#2e8f2e" stroke-width="0.8"/>
<rect x="387.25" y="436.3" width="2.1" height="6.5" fill="#bfe0bf" stroke="#4c9f4c" stroke-width="0.55"/>
<line x1="390.7" y1="435.5" x2="390.7" y2="443.8" stroke="#ff0000" stroke-width="0.8"/>
<rect x="389.70" y="435.8" width="2.0" height="7.9" fill="#ff0000"/>
<line x1="393.2" y1="438.0" x2="393.2" y2="443.0" stroke="#2e8f2e" stroke-width="0.8"/>
<rect x="392.15" y="438.1" width="2.1" height="4.7" fill="#bfe0bf" stroke="#4c9f4c" stroke-width="0.55"/>
<line x1="396.0" y1="438.5" x2="396.0" y2="446.6" stroke="#ff0000" stroke-width="0.8"/>
<rect x="395.00" y="438.6" width="2.0" height="7.9" fill="#ff0000"/>
<line x1="398.3" y1="440.0" x2="398.3" y2="446.0" stroke="#2e8f2e" stroke-width="0.8"/>
<rect x="397.25" y="440.0" width="2.1" height="5.6" fill="#bfe0bf" stroke="#4c9f4c" stroke-width="0.55"/>
<line x1="400.9" y1="430.5" x2="400.9" y2="439.2" stroke="#2e8f2e" stroke-width="0.8"/>
<rect x="399.85" y="430.7" width="2.1" height="8.3" fill="#bfe0bf" stroke="#4c9f4c" stroke-width="0.55"/>
<line x1="403.4" y1="429.2" x2="403.4" y2="436.4" stroke="#ff0000" stroke-width="0.8"/>
<rect x="402.40" y="429.4" width="2.0" height="6.9" fill="#ff0000"/>
<line x1="406.2" y1="417.0" x2="406.2" y2="432.0" stroke="#2e8f2e" stroke-width="0.8"/>
<rect x="405.15" y="417.3" width="2.1" height="14.4" fill="#bfe0bf" stroke="#4c9f4c" stroke-width="0.55"/>
<line x1="408.5" y1="419.4" x2="408.5" y2="427.1" stroke="#ff0000" stroke-width="0.8"/>
<rect x="407.50" y="419.6" width="2.0" height="7.4" fill="#ff0000"/>
<line x1="410.8" y1="426.5" x2="410.8" y2="434.4" stroke="#2e8f2e" stroke-width="0.8"/>
<rect x="409.75" y="426.8" width="2.1" height="1.0" fill="#bfe0bf" stroke="#4c9f4c" stroke-width="0.55"/>
<line x1="413.6" y1="426.8" x2="413.6" y2="431.3" stroke="#ff0000" stroke-width="0.8"/>
<rect x="412.60" y="427.0" width="2.0" height="4.2" fill="#ff0000"/>
<line x1="416.1" y1="424.0" x2="416.1" y2="430.0" stroke="#2e8f2e" stroke-width="0.8"/>
<rect x="415.05" y="424.3" width="2.1" height="5.5" fill="#bfe0bf" stroke="#4c9f4c" stroke-width="0.55"/>
<line x1="418.2" y1="427.8" x2="418.2" y2="436.4" stroke="#ff0000" stroke-width="0.8"/>
<rect x="417.20" y="428.0" width="2.0" height="8.3" fill="#ff0000"/>
<line x1="421.3" y1="431.5" x2="421.3" y2="437.3" stroke="#ff0000" stroke-width="0.8"/>
<rect x="420.30" y="431.7" width="2.0" height="5.5" fill="#ff0000"/>
<line x1="423.8" y1="437.8" x2="423.8" y2="444.7" stroke="#ff0000" stroke-width="0.8"/>
<rect x="422.80" y="438.0" width="2.0" height="6.6" fill="#ff0000"/>
<line x1="426.1" y1="436.0" x2="426.1" y2="443.0" stroke="#2e8f2e" stroke-width="0.8"/>
<rect x="425.05" y="436.3" width="2.1" height="6.5" fill="#bfe0bf" stroke="#4c9f4c" stroke-width="0.55"/>
<line x1="428.9" y1="437.8" x2="428.9" y2="447.5" stroke="#ff0000" stroke-width="0.8"/>
<rect x="427.90" y="438.0" width="2.0" height="9.4" fill="#ff0000"/>
<line x1="431.3" y1="445.0" x2="431.3" y2="452.0" stroke="#ff0000" stroke-width="0.8"/>
<rect x="430.30" y="447.4" width="2.0" height="3.6" fill="#ff0000"/>
<line x1="433.9" y1="441.0" x2="433.9" y2="450.0" stroke="#2e8f2e" stroke-width="0.8"/>
<rect x="432.85" y="441.4" width="2.1" height="8.4" fill="#bfe0bf" stroke="#4c9f4c" stroke-width="0.55"/>
<line x1="436.2" y1="438.0" x2="436.2" y2="444.0" stroke="#2e8f2e" stroke-width="0.8"/>
<rect x="435.15" y="438.1" width="2.1" height="5.2" fill="#bfe0bf" stroke="#4c9f4c" stroke-width="0.55"/>
<line x1="438.8" y1="431.0" x2="438.8" y2="446.0" stroke="#ff0000" stroke-width="0.8"/>
<rect x="437.80" y="432.5" width="2.0" height="12.8" fill="#ff0000"/>
<line x1="441.7" y1="443.0" x2="441.7" y2="446.5" stroke="#2e8f2e" stroke-width="0.8"/>
<rect x="440.65" y="443.3" width="2.1" height="2.7" fill="#bfe0bf" stroke="#4c9f4c" stroke-width="0.55"/>
<line x1="443.6" y1="443.5" x2="443.6" y2="452.5" stroke="#ff0000" stroke-width="0.8"/>
<rect x="442.60" y="444.0" width="2.0" height="8.4" fill="#ff0000"/>
<line x1="446.6" y1="444.5" x2="446.6" y2="453.5" stroke="#2e8f2e" stroke-width="0.8"/>
<rect x="445.55" y="444.6" width="2.1" height="8.4" fill="#bfe0bf" stroke="#4c9f4c" stroke-width="0.55"/>
<line x1="449.2" y1="443.5" x2="449.2" y2="451.5" stroke="#ff0000" stroke-width="0.8"/>
<rect x="448.20" y="444.0" width="2.0" height="7.0" fill="#ff0000"/>
<line x1="451.4" y1="446.5" x2="451.4" y2="455.6" stroke="#ff0000" stroke-width="0.8"/>
<rect x="450.40" y="447.0" width="2.0" height="8.0" fill="#ff0000"/>
<line x1="454.6" y1="444.5" x2="454.6" y2="452.0" stroke="#2e8f2e" stroke-width="0.8"/>
<rect x="453.55" y="444.6" width="2.1" height="7.2" fill="#bfe0bf" stroke="#4c9f4c" stroke-width="0.55"/>
<line x1="457.2" y1="445.5" x2="457.2" y2="448.5" stroke="#ff0000" stroke-width="0.8"/>
<rect x="456.20" y="446.0" width="2.0" height="2.0" fill="#ff0000"/>
<line x1="459.6" y1="444.0" x2="459.6" y2="449.5" stroke="#2e8f2e" stroke-width="0.8"/>
<rect x="458.55" y="444.2" width="2.1" height="4.8" fill="#bfe0bf" stroke="#4c9f4c" stroke-width="0.55"/>
<line x1="462.1" y1="445.0" x2="462.1" y2="452.5" stroke="#ff0000" stroke-width="0.8"/>
<rect x="461.10" y="445.3" width="2.0" height="7.1" fill="#ff0000"/>
<line x1="464.4" y1="458.0" x2="464.4" y2="468.6" stroke="#ff0000" stroke-width="0.8"/>
<rect x="463.40" y="458.2" width="2.0" height="9.8" fill="#ff0000"/>
<line x1="466.9" y1="457.5" x2="466.9" y2="467.5" stroke="#2e8f2e" stroke-width="0.8"/>
<rect x="465.85" y="458.0" width="2.1" height="9.3" fill="#bfe0bf" stroke="#4c9f4c" stroke-width="0.55"/>
<line x1="468.9" y1="460.0" x2="468.9" y2="464.5" stroke="#ff0000" stroke-width="0.8"/>
<rect x="467.85" y="460.2" width="2.1" height="3.8" fill="#ffc0c0" stroke="#ff5050" stroke-width="0.55"/>
<line x1="472.1" y1="454.3" x2="472.1" y2="462.5" stroke="#2e8f2e" stroke-width="0.8"/>
<rect x="471.05" y="454.5" width="2.1" height="7.6" fill="#bfe0bf" stroke="#4c9f4c" stroke-width="0.55"/>
<line x1="474.7" y1="453.0" x2="474.7" y2="458.0" stroke="#2e8f2e" stroke-width="0.8"/>
<rect x="473.65" y="453.2" width="2.1" height="4.4" fill="#bfe0bf" stroke="#4c9f4c" stroke-width="0.55"/>
<line x1="476.9" y1="450.3" x2="476.9" y2="455.3" stroke="#ff0000" stroke-width="0.8"/>
<rect x="475.90" y="450.5" width="2.0" height="4.5" fill="#ff0000"/>
<line x1="479.9" y1="453.5" x2="479.9" y2="456.5" stroke="#ff0000" stroke-width="0.8"/>
<rect x="478.90" y="453.7" width="2.0" height="2.6" fill="#ff0000"/>
<line x1="482.1" y1="447.8" x2="482.1" y2="459.0" stroke="#ff0000" stroke-width="0.8"/>
<rect x="481.10" y="448.0" width="2.0" height="10.9" fill="#ff0000"/>
<line x1="484.4" y1="459.3" x2="484.4" y2="465.0" stroke="#ff0000" stroke-width="0.8"/>
<rect x="483.40" y="459.5" width="2.0" height="5.2" fill="#ff0000"/>
<line x1="487.0" y1="460.5" x2="487.0" y2="467.5" stroke="#ff0000" stroke-width="0.8"/>
<rect x="486.00" y="460.8" width="2.0" height="6.5" fill="#ff0000"/>
<line x1="489.9" y1="467.8" x2="489.9" y2="474.5" stroke="#ff0000" stroke-width="0.8"/>
<rect x="488.90" y="468.0" width="2.0" height="6.4" fill="#ff0000"/>
<line x1="492.2" y1="469.0" x2="492.2" y2="474.6" stroke="#2e8f2e" stroke-width="0.8"/>
<rect x="491.20" y="469.3" width="2.0" height="5.1" fill="#2e8f2e"/>
<line x1="494.8" y1="471.0" x2="494.8" y2="477.0" stroke="#ff0000" stroke-width="0.8"/>
<rect x="493.80" y="471.2" width="2.0" height="5.7" fill="#ff0000"/>
<line x1="497.4" y1="475.0" x2="497.4" y2="481.0" stroke="#ff0000" stroke-width="0.8"/>
<rect x="496.40" y="475.1" width="2.0" height="5.8" fill="#ff0000"/>
<line x1="499.4" y1="473.0" x2="499.4" y2="478.5" stroke="#2e8f2e" stroke-width="0.8"/>
<rect x="498.35" y="473.2" width="2.1" height="5.1" fill="#bfe0bf" stroke="#4c9f4c" stroke-width="0.55"/>
<line x1="502.4" y1="469.6" x2="502.4" y2="477.5" stroke="#2e8f2e" stroke-width="0.8"/>
<rect x="501.35" y="471.0" width="2.1" height="5.1" fill="#bfe0bf" stroke="#4c9f4c" stroke-width="0.55"/>
<line x1="505.2" y1="472.9" x2="505.2" y2="475.0" stroke="#ff0000" stroke-width="0.8"/>
<rect x="504.20" y="473.4" width="2.0" height="1.2" fill="#ff0000"/>
<line x1="507.7" y1="465.8" x2="507.7" y2="475.0" stroke="#2e8f2e" stroke-width="0.8"/>
<rect x="506.65" y="467.2" width="2.1" height="6.4" fill="#bfe0bf" stroke="#4c9f4c" stroke-width="0.55"/>
<line x1="509.9" y1="464.6" x2="509.9" y2="470.8" stroke="#ff0000" stroke-width="0.8"/>
<rect x="508.90" y="466.0" width="2.0" height="3.5" fill="#ff0000"/>
<line x1="512.7" y1="465.8" x2="512.7" y2="468.3" stroke="#2e8f2e" stroke-width="0.8"/>
<rect x="511.65" y="466.4" width="2.1" height="1.4" fill="#bfe0bf" stroke="#4c9f4c" stroke-width="0.55"/>
<line x1="514.9" y1="463.8" x2="514.9" y2="470.4" stroke="#2e8f2e" stroke-width="0.8"/>
<rect x="513.85" y="465.2" width="2.1" height="3.8" fill="#bfe0bf" stroke="#4c9f4c" stroke-width="0.55"/>
<line x1="517.7" y1="462.9" x2="517.7" y2="467.9" stroke="#2e8f2e" stroke-width="0.8"/>
<rect x="516.65" y="464.0" width="2.1" height="2.8" fill="#bfe0bf" stroke="#4c9f4c" stroke-width="0.55"/>
<line x1="520.5" y1="460.4" x2="520.5" y2="465.0" stroke="#2e8f2e" stroke-width="0.8"/>
<rect x="519.45" y="461.4" width="2.1" height="2.6" fill="#bfe0bf" stroke="#4c9f4c" stroke-width="0.55"/>
<line x1="522.7" y1="454.6" x2="522.7" y2="466.7" stroke="#2e8f2e" stroke-width="0.8"/>
<rect x="521.65" y="456.0" width="2.1" height="9.3" fill="#bfe0bf" stroke="#4c9f4c" stroke-width="0.55"/>
<line x1="525.2" y1="452.1" x2="525.2" y2="465.4" stroke="#ff0000" stroke-width="0.8"/>
<rect x="524.20" y="453.5" width="2.0" height="10.5" fill="#ff0000"/>
<line x1="528.3" y1="451.3" x2="528.3" y2="458.8" stroke="#2e8f2e" stroke-width="0.8"/>
<rect x="527.25" y="452.7" width="2.1" height="4.7" fill="#bfe0bf" stroke="#4c9f4c" stroke-width="0.55"/>
<line x1="530.5" y1="455.8" x2="530.5" y2="460.4" stroke="#ff0000" stroke-width="0.8"/>
<rect x="529.50" y="456.8" width="2.0" height="2.6" fill="#ff0000"/>
<line x1="533.0" y1="456.7" x2="533.0" y2="464.2" stroke="#ff0000" stroke-width="0.8"/>
<rect x="532.00" y="458.1" width="2.0" height="4.7" fill="#ff0000"/>
<line x1="535.3" y1="462.1" x2="535.3" y2="469.2" stroke="#ff0000" stroke-width="0.8"/>
<rect x="534.30" y="463.5" width="2.0" height="4.3" fill="#ff0000"/>
<line x1="538.0" y1="466.7" x2="538.0" y2="470.8" stroke="#ff0000" stroke-width="0.8"/>
<rect x="537.00" y="467.6" width="2.0" height="2.3" fill="#ff0000"/>
<line x1="540.6" y1="466.7" x2="540.6" y2="471.2" stroke="#2e8f2e" stroke-width="0.8"/>
<rect x="539.55" y="467.7" width="2.1" height="2.5" fill="#bfe0bf" stroke="#4c9f4c" stroke-width="0.55"/>
<line x1="542.9" y1="464.7" x2="542.9" y2="467.3" stroke="#2e8f2e" stroke-width="0.8"/>
<rect x="541.85" y="465.3" width="2.1" height="1.5" fill="#bfe0bf" stroke="#4c9f4c" stroke-width="0.55"/>
<line x1="545.8" y1="454.3" x2="545.8" y2="466.7" stroke="#2e8f2e" stroke-width="0.8"/>
<rect x="544.75" y="455.7" width="2.1" height="9.6" fill="#bfe0bf" stroke="#4c9f4c" stroke-width="0.55"/>
<line x1="548.4" y1="449.2" x2="548.4" y2="455.0" stroke="#2e8f2e" stroke-width="0.8"/>
<rect x="547.35" y="450.5" width="2.1" height="3.2" fill="#bfe0bf" stroke="#4c9f4c" stroke-width="0.55"/>
<line x1="550.6" y1="439.4" x2="550.6" y2="452.4" stroke="#2e8f2e" stroke-width="0.8"/>
<rect x="549.55" y="440.8" width="2.1" height="10.2" fill="#bfe0bf" stroke="#4c9f4c" stroke-width="0.55"/>
<line x1="553.3" y1="438.1" x2="553.3" y2="444.0" stroke="#2e8f2e" stroke-width="0.8"/>
<rect x="552.25" y="439.4" width="2.1" height="3.3" fill="#bfe0bf" stroke="#4c9f4c" stroke-width="0.55"/>
<line x1="555.8" y1="436.2" x2="555.8" y2="453.7" stroke="#ff0000" stroke-width="0.8"/>
<rect x="554.80" y="437.6" width="2.0" height="14.7" fill="#ff0000"/>
<line x1="558.1" y1="449.8" x2="558.1" y2="454.3" stroke="#2e8f2e" stroke-width="0.8"/>
<rect x="557.05" y="450.8" width="2.1" height="2.5" fill="#bfe0bf" stroke="#4c9f4c" stroke-width="0.55"/>
<line x1="560.5" y1="451.7" x2="560.5" y2="455.0" stroke="#2e8f2e" stroke-width="0.8"/>
<rect x="559.45" y="452.4" width="2.1" height="1.8" fill="#bfe0bf" stroke="#4c9f4c" stroke-width="0.55"/>
<line x1="563.3" y1="451.7" x2="563.3" y2="458.9" stroke="#ff0000" stroke-width="0.8"/>
<rect x="562.30" y="453.1" width="2.0" height="4.4" fill="#ff0000"/>
<line x1="565.9" y1="455.0" x2="565.9" y2="460.2" stroke="#ff0000" stroke-width="0.8"/>
<rect x="564.90" y="456.1" width="2.0" height="2.9" fill="#ff0000"/>
<line x1="568.2" y1="455.6" x2="568.2" y2="461.5" stroke="#2e8f2e" stroke-width="0.8"/>
<rect x="567.15" y="456.9" width="2.1" height="3.3" fill="#bfe0bf" stroke="#4c9f4c" stroke-width="0.55"/>
<line x1="571.1" y1="453.7" x2="571.1" y2="458.9" stroke="#2e8f2e" stroke-width="0.8"/>
<rect x="570.05" y="454.8" width="2.1" height="2.9" fill="#bfe0bf" stroke="#4c9f4c" stroke-width="0.55"/>
<line x1="573.4" y1="454.3" x2="573.4" y2="460.2" stroke="#ff0000" stroke-width="0.8"/>
<rect x="572.40" y="455.6" width="2.0" height="3.3" fill="#ff0000"/>
<line x1="576.0" y1="457.6" x2="576.0" y2="464.7" stroke="#ff0000" stroke-width="0.8"/>
<rect x="575.00" y="459.0" width="2.0" height="4.3" fill="#ff0000"/>
<line x1="578.6" y1="458.2" x2="578.6" y2="464.1" stroke="#2e8f2e" stroke-width="0.8"/>
<rect x="577.55" y="459.5" width="2.1" height="3.3" fill="#bfe0bf" stroke="#4c9f4c" stroke-width="0.55"/>
<line x1="581.2" y1="458.2" x2="581.2" y2="464.1" stroke="#ff0000" stroke-width="0.8"/>
<rect x="580.20" y="459.5" width="2.0" height="3.3" fill="#ff0000"/>
<line x1="583.8" y1="457.6" x2="583.8" y2="462.8" stroke="#2e8f2e" stroke-width="0.8"/>
<rect x="582.75" y="458.7" width="2.1" height="2.9" fill="#bfe0bf" stroke="#4c9f4c" stroke-width="0.55"/>
<line x1="586.4" y1="456.9" x2="586.4" y2="459.5" stroke="#2e8f2e" stroke-width="0.8"/>
<rect x="585.35" y="457.5" width="2.1" height="1.5" fill="#bfe0bf" stroke="#4c9f4c" stroke-width="0.55"/>
<line x1="589.0" y1="455.0" x2="589.0" y2="458.9" stroke="#2e8f2e" stroke-width="0.8"/>
<rect x="587.95" y="455.9" width="2.1" height="2.2" fill="#bfe0bf" stroke="#4c9f4c" stroke-width="0.55"/>
<line x1="591.6" y1="451.7" x2="591.6" y2="457.6" stroke="#2e8f2e" stroke-width="0.8"/>
<rect x="590.55" y="453.0" width="2.1" height="3.3" fill="#bfe0bf" stroke="#4c9f4c" stroke-width="0.55"/>
<line x1="593.8" y1="451.1" x2="593.8" y2="464.7" stroke="#ff0000" stroke-width="0.8"/>
<rect x="592.80" y="452.5" width="2.0" height="10.8" fill="#ff0000"/>
<line x1="596.8" y1="453.7" x2="596.8" y2="464.1" stroke="#2e8f2e" stroke-width="0.8"/>
<rect x="595.75" y="455.1" width="2.1" height="7.6" fill="#bfe0bf" stroke="#4c9f4c" stroke-width="0.55"/>
<line x1="599.0" y1="454.3" x2="599.0" y2="458.2" stroke="#ff0000" stroke-width="0.8"/>
<rect x="598.00" y="455.2" width="2.0" height="2.2" fill="#ff0000"/>
<line x1="601.6" y1="451.7" x2="601.6" y2="457.6" stroke="#ff0000" stroke-width="0.8"/>
<rect x="600.60" y="453.0" width="2.0" height="3.3" fill="#ff0000"/>
<line x1="604.1" y1="457.6" x2="604.1" y2="462.8" stroke="#ff0000" stroke-width="0.8"/>
<rect x="603.10" y="458.7" width="2.0" height="2.9" fill="#ff0000"/>
<line x1="606.7" y1="460.2" x2="606.7" y2="462.8" stroke="#2e8f2e" stroke-width="0.8"/>
<rect x="605.65" y="460.8" width="2.1" height="1.5" fill="#bfe0bf" stroke="#4c9f4c" stroke-width="0.55"/>
<line x1="609.3" y1="460.2" x2="609.3" y2="464.1" stroke="#ff0000" stroke-width="0.8"/>
<rect x="608.30" y="461.1" width="2.0" height="2.2" fill="#ff0000"/>
<line x1="612.3" y1="452.4" x2="612.3" y2="464.1" stroke="#2e8f2e" stroke-width="0.8"/>
<rect x="611.25" y="453.8" width="2.1" height="8.9" fill="#bfe0bf" stroke="#4c9f4c" stroke-width="0.55"/>
<line x1="614.5" y1="453.0" x2="614.5" y2="458.2" stroke="#ff0000" stroke-width="0.8"/>
<rect x="613.50" y="454.1" width="2.0" height="2.9" fill="#ff0000"/>
<line x1="617.1" y1="455.6" x2="617.1" y2="458.9" stroke="#2e8f2e" stroke-width="0.8"/>
<rect x="616.05" y="456.3" width="2.1" height="1.8" fill="#bfe0bf" stroke="#4c9f4c" stroke-width="0.55"/>
<line x1="619.3" y1="456.3" x2="619.3" y2="466.0" stroke="#ff0000" stroke-width="0.8"/>
<rect x="618.30" y="457.7" width="2.0" height="6.9" fill="#ff0000"/>
<line x1="621.9" y1="460.2" x2="621.9" y2="465.4" stroke="#ff0000" stroke-width="0.8"/>
<rect x="620.90" y="461.3" width="2.0" height="2.9" fill="#ff0000"/>
<line x1="624.5" y1="460.2" x2="624.5" y2="466.7" stroke="#2e8f2e" stroke-width="0.8"/>
<rect x="623.45" y="461.6" width="2.1" height="3.7" fill="#bfe0bf" stroke="#4c9f4c" stroke-width="0.55"/>
<line x1="627.1" y1="460.2" x2="627.1" y2="462.8" stroke="#2e8f2e" stroke-width="0.8"/>
<rect x="626.05" y="460.8" width="2.1" height="1.5" fill="#bfe0bf" stroke="#4c9f4c" stroke-width="0.55"/>
<line x1="629.4" y1="458.9" x2="629.4" y2="468.6" stroke="#ff0000" stroke-width="0.8"/>
<rect x="628.40" y="460.3" width="2.0" height="6.9" fill="#ff0000"/>
<line x1="631.7" y1="465.4" x2="631.7" y2="468.6" stroke="#ff0000" stroke-width="0.8"/>
<rect x="630.70" y="466.1" width="2.0" height="1.8" fill="#ff0000"/>
<line x1="634.3" y1="467.3" x2="634.3" y2="470.5" stroke="#ff0000" stroke-width="0.8"/>
<rect x="633.30" y="468.0" width="2.0" height="1.8" fill="#ff0000"/>
<line x1="637.2" y1="470.5" x2="637.2" y2="479.0" stroke="#ff0000" stroke-width="0.8"/>
<rect x="636.20" y="471.9" width="2.0" height="5.7" fill="#ff0000"/>
<line x1="639.5" y1="470.5" x2="639.5" y2="482.8" stroke="#2e8f2e" stroke-width="0.8"/>
<rect x="638.45" y="471.9" width="2.1" height="9.5" fill="#bfe0bf" stroke="#4c9f4c" stroke-width="0.55"/>
<line x1="642.1" y1="468.6" x2="642.1" y2="474.4" stroke="#2e8f2e" stroke-width="0.8"/>
<rect x="641.05" y="469.9" width="2.1" height="3.2" fill="#bfe0bf" stroke="#4c9f4c" stroke-width="0.55"/>
<line x1="644.3" y1="465.4" x2="644.3" y2="471.2" stroke="#2e8f2e" stroke-width="0.8"/>
<rect x="643.25" y="466.7" width="2.1" height="3.2" fill="#bfe0bf" stroke="#4c9f4c" stroke-width="0.55"/>
<line x1="646.9" y1="466.7" x2="646.9" y2="470.5" stroke="#ff0000" stroke-width="0.8"/>
<rect x="645.90" y="467.5" width="2.0" height="2.1" fill="#ff0000"/>
<line x1="649.5" y1="469.9" x2="649.5" y2="471.8" stroke="#ff0000" stroke-width="0.8"/>
<rect x="648.50" y="470.3" width="2.0" height="1.1" fill="#ff0000"/>
<line x1="652.1" y1="464.1" x2="652.1" y2="471.8" stroke="#2e8f2e" stroke-width="0.8"/>
<rect x="651.05" y="465.5" width="2.1" height="4.9" fill="#bfe0bf" stroke="#4c9f4c" stroke-width="0.55"/>
<line x1="654.7" y1="456.3" x2="654.7" y2="464.7" stroke="#2e8f2e" stroke-width="0.8"/>
<rect x="653.65" y="457.7" width="2.1" height="5.6" fill="#bfe0bf" stroke="#4c9f4c" stroke-width="0.55"/>
<line x1="657.3" y1="456.9" x2="657.3" y2="460.8" stroke="#ff0000" stroke-width="0.8"/>
<rect x="656.30" y="457.8" width="2.0" height="2.2" fill="#ff0000"/>
<line x1="659.7" y1="459.7" x2="659.7" y2="464.4" stroke="#ff0000" stroke-width="0.8"/>
<rect x="658.70" y="460.7" width="2.0" height="2.6" fill="#ff0000"/>
<line x1="662.5" y1="462.0" x2="662.5" y2="465.7" stroke="#ff0000" stroke-width="0.8"/>
<rect x="661.50" y="462.8" width="2.0" height="2.1" fill="#ff0000"/>
<line x1="665.1" y1="463.4" x2="665.1" y2="468.1" stroke="#ff0000" stroke-width="0.8"/>
<rect x="664.10" y="464.4" width="2.0" height="2.6" fill="#ff0000"/>
<line x1="667.6" y1="461.1" x2="667.6" y2="465.7" stroke="#2e8f2e" stroke-width="0.8"/>
<rect x="666.55" y="462.1" width="2.1" height="2.6" fill="#bfe0bf" stroke="#4c9f4c" stroke-width="0.55"/>
<line x1="670.1" y1="463.4" x2="670.1" y2="465.7" stroke="#ff0000" stroke-width="0.8"/>
<rect x="669.10" y="463.9" width="2.0" height="1.3" fill="#ff0000"/>
<line x1="672.9" y1="456.5" x2="672.9" y2="463.0" stroke="#2e8f2e" stroke-width="0.8"/>
<rect x="671.85" y="457.9" width="2.1" height="3.7" fill="#bfe0bf" stroke="#4c9f4c" stroke-width="0.55"/>
<line x1="675.4" y1="454.6" x2="675.4" y2="460.6" stroke="#2e8f2e" stroke-width="0.8"/>
<rect x="674.35" y="455.9" width="2.1" height="3.4" fill="#bfe0bf" stroke="#4c9f4c" stroke-width="0.55"/>
<line x1="678.0" y1="450.0" x2="678.0" y2="455.1" stroke="#2e8f2e" stroke-width="0.8"/>
<rect x="676.95" y="451.1" width="2.1" height="2.9" fill="#bfe0bf" stroke="#4c9f4c" stroke-width="0.55"/>
<line x1="680.3" y1="444.4" x2="680.3" y2="452.8" stroke="#2e8f2e" stroke-width="0.8"/>
<rect x="679.25" y="445.8" width="2.1" height="5.6" fill="#bfe0bf" stroke="#4c9f4c" stroke-width="0.55"/>
<line x1="682.7" y1="445.8" x2="682.7" y2="452.3" stroke="#ff0000" stroke-width="0.8"/>
<rect x="681.70" y="447.2" width="2.0" height="3.7" fill="#ff0000"/>
<line x1="685.2" y1="448.6" x2="685.2" y2="451.4" stroke="#2e8f2e" stroke-width="0.8"/>
<rect x="684.15" y="449.2" width="2.1" height="1.6" fill="#bfe0bf" stroke="#4c9f4c" stroke-width="0.55"/>
<line x1="687.7" y1="444.9" x2="687.7" y2="450.9" stroke="#2e8f2e" stroke-width="0.8"/>
<rect x="686.65" y="446.2" width="2.1" height="3.4" fill="#bfe0bf" stroke="#4c9f4c" stroke-width="0.55"/>
<line x1="690.3" y1="449.1" x2="690.3" y2="453.7" stroke="#ff0000" stroke-width="0.8"/>
<rect x="689.30" y="450.1" width="2.0" height="2.6" fill="#ff0000"/>
<line x1="692.9" y1="453.7" x2="692.9" y2="457.4" stroke="#ff0000" stroke-width="0.8"/>
<rect x="691.90" y="454.5" width="2.0" height="2.1" fill="#ff0000"/>
<line x1="695.6" y1="454.2" x2="695.6" y2="460.2" stroke="#2e8f2e" stroke-width="0.8"/>
<rect x="694.55" y="455.5" width="2.1" height="3.4" fill="#bfe0bf" stroke="#4c9f4c" stroke-width="0.55"/>
<line x1="698.1" y1="454.2" x2="698.1" y2="456.0" stroke="#2e8f2e" stroke-width="0.8"/>
<rect x="697.05" y="454.6" width="2.1" height="1.0" fill="#bfe0bf" stroke="#4c9f4c" stroke-width="0.55"/>
<line x1="700.6" y1="450.0" x2="700.6" y2="455.1" stroke="#2e8f2e" stroke-width="0.8"/>
<rect x="699.55" y="451.1" width="2.1" height="2.9" fill="#bfe0bf" stroke="#4c9f4c" stroke-width="0.55"/>
<line x1="703.2" y1="448.6" x2="703.2" y2="451.9" stroke="#ff0000" stroke-width="0.8"/>
<rect x="702.20" y="449.3" width="2.0" height="1.8" fill="#ff0000"/>
<line x1="705.8" y1="448.6" x2="705.8" y2="450.9" stroke="#2e8f2e" stroke-width="0.8"/>
<rect x="704.75" y="449.1" width="2.1" height="1.3" fill="#bfe0bf" stroke="#4c9f4c" stroke-width="0.55"/>
<line x1="708.2" y1="449.1" x2="708.2" y2="458.8" stroke="#2e8f2e" stroke-width="0.8"/>
<rect x="707.15" y="450.5" width="2.1" height="6.9" fill="#bfe0bf" stroke="#4c9f4c" stroke-width="0.55"/>
<line x1="711.0" y1="450.0" x2="711.0" y2="452.7" stroke="#ff0000" stroke-width="0.8"/>
<rect x="710.00" y="450.6" width="2.0" height="1.5" fill="#ff0000"/>
<line x1="713.4" y1="450.0" x2="713.4" y2="454.1" stroke="#ff0000" stroke-width="0.8"/>
<rect x="712.40" y="450.9" width="2.0" height="2.3" fill="#ff0000"/>
<line x1="715.9" y1="445.8" x2="715.9" y2="454.1" stroke="#2e8f2e" stroke-width="0.8"/>
<rect x="714.85" y="447.2" width="2.1" height="5.5" fill="#bfe0bf" stroke="#4c9f4c" stroke-width="0.55"/>
<line x1="718.2" y1="441.1" x2="718.2" y2="449.5" stroke="#2e8f2e" stroke-width="0.8"/>
<rect x="717.15" y="442.5" width="2.1" height="5.6" fill="#bfe0bf" stroke="#4c9f4c" stroke-width="0.55"/>
<line x1="720.8" y1="440.2" x2="720.8" y2="444.9" stroke="#2e8f2e" stroke-width="0.8"/>
<rect x="719.75" y="441.2" width="2.1" height="2.6" fill="#bfe0bf" stroke="#4c9f4c" stroke-width="0.55"/>
<line x1="723.3" y1="437.9" x2="723.3" y2="442.1" stroke="#2e8f2e" stroke-width="0.8"/>
<rect x="722.25" y="438.8" width="2.1" height="2.4" fill="#bfe0bf" stroke="#4c9f4c" stroke-width="0.55"/>
<line x1="726.1" y1="435.1" x2="726.1" y2="440.2" stroke="#2e8f2e" stroke-width="0.8"/>
<rect x="725.05" y="436.2" width="2.1" height="2.9" fill="#bfe0bf" stroke="#4c9f4c" stroke-width="0.55"/>
<line x1="728.6" y1="434.2" x2="728.6" y2="437.4" stroke="#ff0000" stroke-width="0.8"/>
<rect x="727.60" y="434.9" width="2.0" height="1.8" fill="#ff0000"/>
<line x1="731.0" y1="437.0" x2="731.0" y2="441.6" stroke="#ff0000" stroke-width="0.8"/>
<rect x="730.00" y="438.0" width="2.0" height="2.6" fill="#ff0000"/>
<line x1="733.5" y1="439.3" x2="733.5" y2="444.4" stroke="#ff0000" stroke-width="0.8"/>
<rect x="732.50" y="440.4" width="2.0" height="2.9" fill="#ff0000"/>
<line x1="736.2" y1="441.6" x2="736.2" y2="443.5" stroke="#2e8f2e" stroke-width="0.8"/>
<rect x="735.15" y="442.0" width="2.1" height="1.1" fill="#bfe0bf" stroke="#4c9f4c" stroke-width="0.55"/>
<line x1="738.6" y1="440.2" x2="738.6" y2="445.8" stroke="#ff0000" stroke-width="0.8"/>
<rect x="737.60" y="441.4" width="2.0" height="3.1" fill="#ff0000"/>
<line x1="740.9" y1="441.1" x2="740.9" y2="443.5" stroke="#2e8f2e" stroke-width="0.8"/>
<rect x="739.85" y="441.6" width="2.1" height="1.3" fill="#bfe0bf" stroke="#4c9f4c" stroke-width="0.55"/>
<line x1="743.6" y1="442.1" x2="743.6" y2="448.6" stroke="#ff0000" stroke-width="0.8"/>
<rect x="742.60" y="443.5" width="2.0" height="3.7" fill="#ff0000"/>
<line x1="746.0" y1="443.0" x2="746.0" y2="448.6" stroke="#2e8f2e" stroke-width="0.8"/>
<rect x="744.95" y="444.2" width="2.1" height="3.1" fill="#bfe0bf" stroke="#4c9f4c" stroke-width="0.55"/>
<line x1="748.6" y1="442.1" x2="748.6" y2="445.8" stroke="#2e8f2e" stroke-width="0.8"/>
<rect x="747.55" y="442.9" width="2.1" height="2.1" fill="#bfe0bf" stroke="#4c9f4c" stroke-width="0.55"/>
<line x1="751.1" y1="441.6" x2="751.1" y2="444.9" stroke="#2e8f2e" stroke-width="0.8"/>
<rect x="750.05" y="442.3" width="2.1" height="1.8" fill="#bfe0bf" stroke="#4c9f4c" stroke-width="0.55"/>
<line x1="753.8" y1="434.7" x2="753.8" y2="443.0" stroke="#2e8f2e" stroke-width="0.8"/>
<rect x="752.75" y="436.1" width="2.1" height="5.5" fill="#bfe0bf" stroke="#4c9f4c" stroke-width="0.55"/>
<line x1="756.1" y1="432.8" x2="756.1" y2="436.1" stroke="#2e8f2e" stroke-width="0.8"/>
<rect x="755.05" y="433.5" width="2.1" height="1.8" fill="#bfe0bf" stroke="#4c9f4c" stroke-width="0.55"/>
<line x1="758.7" y1="432.8" x2="758.7" y2="437.4" stroke="#ff0000" stroke-width="0.8"/>
<rect x="757.70" y="433.8" width="2.0" height="2.6" fill="#ff0000"/>
<path d="M192.7,334.8 C193.7,335.3 196.6,336.9 198.9,337.8 C201.2,338.7 203.8,339.1 206.3,340.0 C208.8,340.9 211.5,341.9 213.7,343.0 C215.9,344.1 216.9,345.7 219.6,346.4 C222.3,347.1 226.6,347.2 230.0,347.4 C233.4,347.6 236.7,347.3 239.8,347.4 C242.9,347.5 244.8,347.4 248.7,347.9 C252.6,348.4 258.3,349.7 263.5,350.4 C268.7,351.1 276.3,351.7 279.8,352.3 C283.3,352.9 282.3,353.1 284.3,354.1 C286.3,355.1 289.1,357.1 291.7,358.2 C294.3,359.3 295.4,359.7 300.0,361.0 C304.6,362.3 313.1,364.7 319.3,365.9 C325.5,367.1 332.8,366.9 337.0,368.1 C341.2,369.3 341.9,371.8 344.4,373.3 C346.9,374.8 349.7,375.6 351.9,377.0 C354.1,378.4 354.9,380.0 357.8,381.5 C360.8,383.0 365.9,384.7 369.6,385.9 C373.3,387.1 377.5,388.2 380.0,388.9 C382.5,389.6 377.7,388.8 384.4,390.0 C391.1,391.2 410.0,394.2 420.0,395.9 C430.0,397.6 438.0,399.1 444.6,400.0 C451.2,400.9 455.4,400.8 459.4,401.5 C463.3,402.2 462.4,403.2 468.3,404.4 C474.2,405.6 489.4,408.0 495.0,408.9 C500.6,409.8 495.3,409.2 501.9,410.0 C508.5,410.8 523.5,412.5 534.4,413.7 C545.2,414.9 554.5,415.8 567.0,417.0 C579.5,418.2 596.9,420.0 609.4,421.1 C621.9,422.2 627.6,422.7 642.0,423.5 C656.4,424.3 676.2,425.2 695.6,425.9 C715.0,426.6 748.0,427.5 758.5,427.8" fill="none" stroke="#5050ff" stroke-width="1.0"/>
<path d="M336.9,441.3 L337.00,443.80 L337.30,444.36 L337.70,445.05 L338.20,445.84 L339.00,447.00 L340.00,448.30 L341.00,449.47 L343.00,451.54 L345.00,453.36 L347.00,454.99 L349.00,456.48 L351.00,457.86 L353.00,459.14 L355.00,460.35 L357.00,461.49 L359.00,462.57 L361.00,463.59 L363.00,464.57 L365.00,465.51 L367.00,466.41 L369.00,467.27 L371.00,468.10 L373.00,468.90 L375.00,469.68 L377.00,470.42 L379.00,471.15 L381.00,471.85 L383.00,472.53 L385.00,473.18 L387.00,473.82 L389.00,474.44 L391.00,475.05 L393.00,475.63 L395.00,476.20 L397.00,476.76 L399.00,477.30 L401.00,477.82 L403.00,478.34 L405.00,478.84 L407.00,479.32 L409.00,479.80 L411.00,480.26 L413.00,480.71 L415.00,481.15 L417.00,481.58 L419.00,482.00 L421.00,482.41 L423.00,482.81 L425.00,483.20 L427.00,483.58 L429.00,483.95 L431.00,484.31 L433.00,484.66 L435.00,485.00 L437.00,485.34 L439.00,485.67 L441.00,485.98 L443.00,486.30 L445.00,486.60 L447.00,486.89 L449.00,487.18 L451.00,487.46 L453.00,487.74 L455.00,488.00 L457.00,488.26 L459.00,488.51 L461.00,488.76 L463.00,489.00 L465.00,489.23 L467.00,489.45 L469.00,489.67 L471.00,489.89 L473.00,490.09 L475.00,490.29 L477.00,490.49 L479.00,490.67 L481.00,490.86 L483.00,491.03 L485.00,491.20 L487.00,491.36 L489.00,491.52 L491.00,491.68 L493.00,491.82 L495.00,491.96 L497.00,492.10 L499.00,492.23 L501.00,492.35 L503.00,492.47 L505.00,492.58 L507.00,492.69 L509.00,492.79 L511.00,492.89 L513.00,492.98 L515.00,493.07 L517.00,493.15 L519.00,493.23 L521.00,493.30 L523.00,493.36 L525.00,493.42 L527.00,493.48 L529.00,493.53 L531.00,493.57 L533.00,493.61 L535.00,493.65 L537.00,493.68 L539.00,493.70 L541.00,493.72 L543.00,493.74 L545.00,493.75 L547.00,493.75 L549.00,493.75 L551.00,493.74 L553.00,493.73 L555.00,493.72 L557.00,493.70 L559.00,493.67 L561.00,493.64 L563.00,493.60 L565.00,493.56 L567.00,493.52 L569.00,493.47 L571.00,493.41 L573.00,493.35 L575.00,493.28 L577.00,493.21 L579.00,493.13 L581.00,493.05 L583.00,492.96 L585.00,492.87 L587.00,492.77 L589.00,492.67 L591.00,492.56 L593.00,492.45 L595.00,492.33 L597.00,492.21 L599.00,492.08 L601.00,491.94 L603.00,491.80 L605.00,491.66 L607.00,491.51 L609.00,491.35 L611.00,491.19 L613.00,491.02 L615.00,490.85 L617.00,490.67 L619.00,490.48 L621.00,490.29 L623.00,490.09 L625.00,489.89 L627.00,489.68 L629.00,489.47 L631.00,489.24 L633.00,489.02 L635.00,488.78 L637.00,488.54 L639.00,488.30 L641.00,488.04 L643.00,487.78 L645.00,487.52 L647.00,487.25 L649.00,486.97 L651.00,486.68 L653.00,486.38 L655.00,486.08 L657.00,485.77 L659.00,485.46 L661.00,485.13 L663.00,484.80 L665.00,484.46 L667.00,484.12 L669.00,483.76 L671.00,483.40 L673.00,483.02 L675.00,482.64 L677.00,482.25 L679.00,481.85 L681.00,481.44 L683.00,481.02 L685.00,480.60 L687.00,480.16 L689.00,479.71 L691.00,479.25 L693.00,478.78 L695.00,478.30 L697.00,477.80 L699.00,477.30 L701.00,476.78 L703.00,476.25 L705.00,475.70 L707.00,475.14 L709.00,474.57 L711.00,473.98 L713.00,473.38 L715.00,472.76 L717.00,472.12 L719.00,471.46 L721.00,470.79 L723.00,470.09 L725.00,469.38 L727.00,468.64 L729.00,467.88 L731.00,467.09 L733.00,466.28 L735.00,465.43 L737.00,464.56 L739.00,463.65 L741.00,462.70 L743.00,461.71 L745.00,460.68 L747.00,459.60 L749.00,458.46 L751.00,457.25 L753.00,455.97 L755.00,454.61 L757.00,453.13 L759.00,451.53 L760.00,450.67 L762.00,448.80 L764.00,446.65 L765.50,444.78 L766.50,443.34 L767.30,442.02 L767.80,441.09" fill="none" stroke="#2f8f2f" stroke-width="1.35" stroke-linecap="round" stroke-linejoin="round"/>
<text x="346.2" y="315.8" font-size="20" fill="#1a1a1a" textLength="179.8" lengthAdjust="spacingAndGlyphs">Dollar Index Futures</text>
<text x="414.4" y="342.5" font-size="20" fill="#1a1a1a" textLength="48.2" lengthAdjust="spacingAndGlyphs">(DXY)</text>
<g clip-path="url(#cbox)">
<rect x="903" y="406.2" width="54" height="19.3" fill="#0000ff"/>
<text x="906.5" y="420.5" font-size="14" fill="#fff" textLength="51.5" lengthAdjust="spacingAndGlyphs">100.786</text>
<rect x="903" y="426" width="54" height="19" fill="#ff0000"/>
<text x="906.5" y="440.4" font-size="14" fill="#fff" textLength="51.5" lengthAdjust="spacingAndGlyphs">100.100</text>
</g>
<line x1="899.4" y1="427.6" x2="902.9" y2="416.9" stroke="#6a6aff" stroke-width="0.8"/>
<rect x="944.3" y="276.1" width="12.5" height="12.6" fill="#fff" stroke="#e4e4e4" stroke-width="1"/>
<path d="M947.5999999999999,281.8 v-1.6 a2.55,2.55 0 0 1 5.1,0 v1.6" fill="none" stroke="#6e6e6e" stroke-width="1.7"/>
<rect x="946.0999999999999" y="281.5" width="8.3" height="5.4" rx="1" fill="#6e6e6e"/>
<rect x="949.6999999999999" y="283.40000000000003" width="1.1" height="2" fill="#b8b8b8"/>
<rect x="950.8" y="394.2" width="5.7000000000000455" height="13.6" fill="#fff"/>
<path d="M950.8,394.7 H956.5 M951.3,394.2 V407.8 M950.8,407.3 H956.5" fill="none" stroke="#ececec" stroke-width="1"/>
<path d="M955.0999999999999,399.0 l-2,2 l2,2" fill="none" stroke="#555" stroke-width="1.1"/>
<text x="769.6" y="322.2" font-size="11" font-weight="bold" fill="#1b3050" stroke="#1b3050" stroke-width="0.45" textLength="69.2" lengthAdjust="spacing">ALL STAR</text>
<text x="774.6" y="334.2" font-size="11" font-weight="bold" fill="#1b3050" stroke="#1b3050" stroke-width="0.45" textLength="59" lengthAdjust="spacing">CHARTS</text>
<polygon points="815.00,305.00 815.81,307.18 818.14,307.28 816.32,308.73 816.94,310.97 815.00,309.69 813.06,310.97 813.68,308.73 811.86,307.28 814.19,307.18" fill="#e0283a"/>
<polygon points="821.90,299.90 822.71,302.08 825.04,302.18 823.22,303.63 823.84,305.87 821.90,304.59 819.96,305.87 820.58,303.63 818.76,302.18 821.09,302.08" fill="#e0283a"/>
<polygon points="829.90,297.60 830.71,299.78 833.04,299.88 831.22,301.33 831.84,303.57 829.90,302.29 827.96,303.57 828.58,301.33 826.76,299.88 829.09,299.78" fill="#e0283a"/>
<polygon points="838.50,298.70 839.31,300.88 841.64,300.98 839.82,302.43 840.44,304.67 838.50,303.39 836.56,304.67 837.18,302.43 835.36,300.98 837.69,300.88" fill="#e0283a"/>
<polygon points="845.40,302.70 846.21,304.88 848.54,304.98 846.72,306.43 847.34,308.67 845.40,307.39 843.46,308.67 844.08,306.43 842.26,304.98 844.59,304.88" fill="#e0283a"/>
<polygon points="851.10,309.60 851.91,311.78 854.24,311.88 852.42,313.33 853.04,315.57 851.10,314.29 849.16,315.57 849.78,313.33 847.96,311.88 850.29,311.78" fill="#e0283a"/>
<polygon points="853.40,317.60 854.21,319.78 856.54,319.88 854.72,321.33 855.34,323.57 853.40,322.29 851.46,323.57 852.08,321.33 850.26,319.88 852.59,319.78" fill="#e0283a"/>
<polygon points="852.80,325.10 853.61,327.28 855.94,327.38 854.12,328.83 854.74,331.07 852.80,329.79 850.86,331.07 851.48,328.83 849.66,327.38 851.99,327.28" fill="#e0283a"/>
<circle cx="850.5" cy="333.5" r="1.30" fill="#e0283a"/>
<circle cx="847.7" cy="337" r="1.24" fill="#e0283a"/>
<circle cx="844.8" cy="339.8" r="1.17" fill="#e0283a"/>
<circle cx="841.4" cy="342.1" r="1.10" fill="#e0283a"/>
<circle cx="837.3" cy="343.9" r="1.04" fill="#e0283a"/>
<circle cx="833.3" cy="344.4" r="0.98" fill="#e0283a"/>
<circle cx="828.8" cy="344.8" r="0.91" fill="#e0283a"/>
<circle cx="824.7" cy="343.3" r="0.84" fill="#e0283a"/>
<circle cx="821.3" cy="341.6" r="0.78" fill="#e0283a"/>
<circle cx="817.9" cy="339.3" r="0.72" fill="#e0283a"/>
<circle cx="815" cy="337" r="0.65" fill="#e0283a"/>
<rect x="2.5" y="536.8" width="9.7" height="8" rx="1.5" fill="#1f4f8f"/>
<text x="14.6" y="545.5" font-size="9.5" fill="#1f3f6f" textLength="28" lengthAdjust="spacingAndGlyphs">Subscribe</text>
<text x="460" y="543.5" font-size="7" fill="#999" textLength="40" lengthAdjust="spacingAndGlyphs">Sponsored 2025</text>
</svg>
</body></html>
